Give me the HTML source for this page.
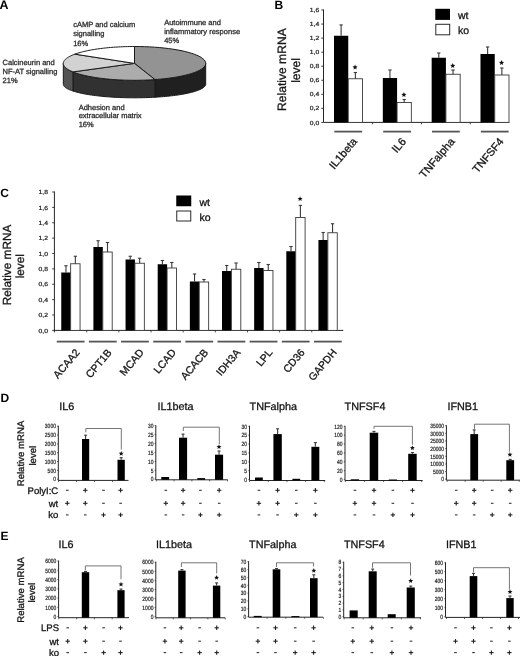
<!DOCTYPE html>
<html><head><meta charset="utf-8"><title>Figure</title>
<style>
html,body{margin:0;padding:0;background:#fff;}
body{width:520px;height:656px;overflow:hidden;}
svg{display:block;filter:grayscale(1) blur(0.3px);text-rendering:geometricPrecision;font-family:"Liberation Sans", sans-serif;}
</style></head><body>
<svg width="520" height="656" viewBox="0 0 520 656">
<rect x="0" y="0" width="520" height="656" fill="#fff"/>
<text x="-0.4" y="9" font-size="12.4" text-anchor="start" font-weight="bold" fill="#000">A</text>
<polygon points="205.7,63.4 205.66,63.94 205.55,64.48 205.37,65.02 205.12,65.56 204.79,66.09 204.39,66.62 203.92,67.15 203.38,67.68 202.77,68.2 202.09,68.71 201.34,69.22 200.52,69.73 199.63,70.23 198.68,70.72 197.66,71.2 196.58,71.68 195.43,72.14 194.22,72.6 192.95,73.05 191.62,73.49 190.24,73.92 188.79,74.33 187.29,74.74 185.73,75.14 184.13,75.52 182.47,75.89 180.76,76.25 179.01,76.59 177.21,76.92 175.36,77.24 173.48,77.54 171.55,77.83 169.59,78.11 167.59,78.36 165.56,78.61 163.49,78.84 161.4,79.05 159.28,79.24 157.13,79.42 154.96,79.59 154.96,97.23 157.13,97.09 159.28,96.95 161.4,96.79 163.49,96.62 165.56,96.44 167.59,96.24 169.59,96.03 171.55,95.81 173.48,95.58 175.36,95.34 177.21,95.08 179.01,94.82 180.76,94.54 182.47,94.25 184.13,93.95 185.73,93.64 187.29,93.33 188.79,93 190.24,92.66 191.62,92.32 192.95,91.97 194.22,91.6 195.43,91.24 196.58,90.86 197.66,90.48 198.68,90.09 199.63,89.69 200.52,89.29 201.34,88.89 202.09,88.48 202.77,88.06 203.38,87.64 203.92,87.22 204.39,86.79 204.79,86.37 205.12,85.94 205.37,85.5 205.55,85.07 205.66,84.63 205.7,84.2" fill="#202020" stroke="#1a1a1a" stroke-width="1" stroke-linejoin="round"/>
<polygon points="154.96,79.59 152.67,79.74 150.37,79.88 148.04,79.99 145.7,80.09 143.35,80.17 140.98,80.23 138.61,80.27 136.24,80.29 133.86,80.3 131.49,80.28 129.12,80.25 126.75,80.2 124.39,80.13 122.04,80.04 119.71,79.93 117.4,79.81 115.1,79.66 112.82,79.5 110.57,79.32 108.35,79.12 106.15,78.9 103.99,78.67 101.86,78.42 99.76,78.15 97.71,77.87 95.7,77.57 93.73,77.25 91.8,76.92 89.92,76.58 88.09,76.22 86.32,75.84 84.6,75.45 82.93,75.05 81.32,74.64 79.77,74.21 78.28,73.77 76.85,73.32 75.49,72.86 74.19,72.38 72.96,71.9 72.96,91.04 74.19,91.43 75.49,91.81 76.85,92.18 78.28,92.54 79.77,92.9 81.32,93.24 82.93,93.58 84.6,93.9 86.32,94.21 88.09,94.51 89.92,94.8 91.8,95.08 93.73,95.35 95.7,95.6 97.71,95.84 99.76,96.07 101.86,96.29 103.99,96.49 106.15,96.68 108.35,96.85 110.57,97.01 112.82,97.15 115.1,97.29 117.4,97.4 119.71,97.5 122.04,97.59 124.39,97.66 126.75,97.72 129.12,97.76 131.49,97.79 133.86,97.8 136.24,97.8 138.61,97.78 140.98,97.74 143.35,97.69 145.7,97.63 148.04,97.55 150.37,97.46 152.67,97.35 154.96,97.23" fill="#313131" stroke="#1a1a1a" stroke-width="1" stroke-linejoin="round"/>
<polygon points="72.96,71.9 72.5,71.71 72.04,71.51 71.6,71.32 71.16,71.12 70.74,70.92 70.33,70.72 69.93,70.52 69.54,70.32 69.16,70.11 68.79,69.91 68.44,69.7 68.09,69.49 67.76,69.29 67.44,69.08 67.13,68.87 66.83,68.66 66.55,68.44 66.27,68.23 66.01,68.02 65.76,67.8 65.52,67.59 65.29,67.37 65.08,67.15 64.88,66.94 64.69,66.72 64.51,66.5 64.34,66.28 64.19,66.06 64.05,65.84 63.92,65.62 63.8,65.4 63.7,65.18 63.6,64.96 63.52,64.73 63.45,64.51 63.4,64.29 63.36,64.07 63.32,63.85 63.31,63.62 63.3,63.4 63.3,84.2 63.31,84.38 63.32,84.56 63.36,84.74 63.4,84.92 63.45,85.1 63.52,85.27 63.6,85.45 63.7,85.63 63.8,85.81 63.92,85.99 64.05,86.16 64.19,86.34 64.34,86.52 64.51,86.69 64.69,86.87 64.88,87.05 65.08,87.22 65.29,87.4 65.52,87.57 65.76,87.74 66.01,87.92 66.27,88.09 66.55,88.26 66.83,88.43 67.13,88.6 67.44,88.77 67.76,88.94 68.09,89.1 68.44,89.27 68.79,89.44 69.16,89.6 69.54,89.77 69.93,89.93 70.33,90.09 70.74,90.25 71.16,90.41 71.6,90.57 72.04,90.73 72.5,90.89 72.96,91.04" fill="#535353" stroke="#1a1a1a" stroke-width="1" stroke-linejoin="round"/>
<polygon points="134.5,63.4 134.5,46.5 139.57,46.54 144.61,46.67 149.6,46.88 154.52,47.18 159.33,47.56 164.02,48.02 168.56,48.56 172.92,49.17 177.09,49.86 181.05,50.61 184.76,51.43 188.23,52.31 191.42,53.25 194.32,54.23 196.92,55.27 199.2,56.34 201.15,57.45 202.76,58.6 204.03,59.76 204.95,60.95 205.5,62.14 205.7,63.35 205.54,64.55 205.01,65.75 204.13,66.93 202.89,68.1 201.31,69.24 199.39,70.36 197.14,71.44 194.57,72.47 191.69,73.47 188.53,74.41 185.09,75.29 181.39,76.12 177.46,76.88 173.31,77.57 168.96,78.19 164.44,78.73 159.76,79.2 154.96,79.59" fill="#939393" stroke="#1a1a1a" stroke-width="1" stroke-linejoin="round"/>
<polygon points="134.5,63.4 154.96,79.59 152.67,79.74 150.37,79.88 148.04,79.99 145.7,80.09 143.35,80.17 140.98,80.23 138.61,80.27 136.24,80.29 133.86,80.3 131.49,80.28 129.12,80.25 126.75,80.2 124.39,80.13 122.04,80.04 119.71,79.93 117.4,79.81 115.1,79.66 112.82,79.5 110.57,79.32 108.35,79.12 106.15,78.9 103.99,78.67 101.86,78.42 99.76,78.15 97.71,77.87 95.7,77.57 93.73,77.25 91.8,76.92 89.92,76.58 88.09,76.22 86.32,75.84 84.6,75.45 82.93,75.05 81.32,74.64 79.77,74.21 78.28,73.77 76.85,73.32 75.49,72.86 74.19,72.38 72.96,71.9" fill="#acacac" stroke="#1a1a1a" stroke-width="1" stroke-linejoin="round"/>
<polygon points="134.5,63.4 72.96,71.9 72,71.49 71.08,71.08 70.21,70.66 69.39,70.24 68.62,69.81 67.9,69.38 67.23,68.94 66.61,68.49 66.04,68.05 65.53,67.6 65.07,67.14 64.66,66.69 64.3,66.23 64,65.77 63.75,65.3 63.56,64.84 63.42,64.37 63.33,63.91 63.3,63.44 63.32,62.97 63.4,62.51 63.53,62.04 63.72,61.58 63.96,61.11 64.25,60.65 64.6,60.19 65,59.73 65.45,59.28 65.95,58.83 66.51,58.38 67.12,57.94 67.78,57.5 68.49,57.06 69.26,56.63 70.07,56.21 70.93,55.79 71.84,55.37 72.8,54.97 73.8,54.57 74.85,54.17" fill="#d2d2d2" stroke="#1a1a1a" stroke-width="1" stroke-linejoin="round"/>
<polygon points="134.5,63.4 74.85,54.17 75.84,53.82 76.86,53.48 77.91,53.14 79,52.81 80.13,52.49 81.29,52.17 82.48,51.86 83.7,51.56 84.95,51.26 86.24,50.97 87.55,50.69 88.9,50.42 90.27,50.16 91.67,49.9 93.09,49.65 94.54,49.41 96.02,49.18 97.52,48.96 99.04,48.75 100.58,48.54 102.15,48.35 103.73,48.16 105.33,47.98 106.95,47.82 108.59,47.66 110.25,47.51 111.92,47.37 113.6,47.24 115.3,47.13 117,47.02 118.72,46.92 120.45,46.83 122.19,46.75 123.93,46.69 125.68,46.63 127.44,46.58 129.2,46.55 130.97,46.52 132.73,46.51 134.5,46.5" fill="#ffffff" stroke="#1a1a1a" stroke-width="1" stroke-linejoin="round"/>
<text x="73.2" y="26.9" font-size="7.5" text-anchor="start" fill="#2e2e2e" stroke="#2e2e2e" stroke-width="0.3">cAMP and calcium</text>
<text x="73.2" y="36.2" font-size="7.5" text-anchor="start" fill="#2e2e2e" stroke="#2e2e2e" stroke-width="0.3">signalling</text>
<text x="73.2" y="45.5" font-size="7.5" text-anchor="start" fill="#2e2e2e" stroke="#2e2e2e" stroke-width="0.3">16%</text>
<text x="164.2" y="24.6" font-size="7.5" text-anchor="start" fill="#2e2e2e" stroke="#2e2e2e" stroke-width="0.3">Autoimmune and</text>
<text x="164.2" y="33.8" font-size="7.5" text-anchor="start" fill="#2e2e2e" stroke="#2e2e2e" stroke-width="0.3">inflammatory response</text>
<text x="164.2" y="43" font-size="7.5" text-anchor="start" fill="#2e2e2e" stroke="#2e2e2e" stroke-width="0.3">45%</text>
<text x="2.6" y="64.6" font-size="7.5" text-anchor="start" fill="#2e2e2e" stroke="#2e2e2e" stroke-width="0.3">Calcineurin and</text>
<text x="2.6" y="73.6" font-size="7.5" text-anchor="start" fill="#2e2e2e" stroke="#2e2e2e" stroke-width="0.3">NF-AT signalling</text>
<text x="2.6" y="82.6" font-size="7.5" text-anchor="start" fill="#2e2e2e" stroke="#2e2e2e" stroke-width="0.3">21%</text>
<text x="78.7" y="110" font-size="7.5" text-anchor="start" fill="#2e2e2e" stroke="#2e2e2e" stroke-width="0.3">Adhesion and</text>
<text x="78.7" y="118.4" font-size="7.5" text-anchor="start" fill="#2e2e2e" stroke="#2e2e2e" stroke-width="0.3">extracellular matrix</text>
<text x="78.7" y="126.8" font-size="7.5" text-anchor="start" fill="#2e2e2e" stroke="#2e2e2e" stroke-width="0.3">16%</text>
<text x="274.6" y="8.7" font-size="12" text-anchor="start" font-weight="bold" fill="#000">B</text>
<line x1="323.5" y1="9.5" x2="323.5" y2="122.4" stroke="#262626" stroke-width="1"/>
<line x1="323.5" y1="122.4" x2="509.3" y2="122.4" stroke="#262626" stroke-width="1"/>
<line x1="321.3" y1="122.4" x2="323.5" y2="122.4" stroke="#262626" stroke-width="0.9"/>
<text x="0" y="0" font-size="20" text-anchor="end" transform="translate(319.2 124.52) scale(0.3392 0.2950)" fill="#222" stroke="#222" stroke-width="0.75">0,0</text>
<line x1="321.3" y1="108.35" x2="323.5" y2="108.35" stroke="#262626" stroke-width="0.9"/>
<text x="0" y="0" font-size="20" text-anchor="end" transform="translate(319.2 110.47) scale(0.3392 0.2950)" fill="#222" stroke="#222" stroke-width="0.75">0,2</text>
<line x1="321.3" y1="94.3" x2="323.5" y2="94.3" stroke="#262626" stroke-width="0.9"/>
<text x="0" y="0" font-size="20" text-anchor="end" transform="translate(319.2 96.42) scale(0.3392 0.2950)" fill="#222" stroke="#222" stroke-width="0.75">0,4</text>
<line x1="321.3" y1="80.25" x2="323.5" y2="80.25" stroke="#262626" stroke-width="0.9"/>
<text x="0" y="0" font-size="20" text-anchor="end" transform="translate(319.2 82.37) scale(0.3392 0.2950)" fill="#222" stroke="#222" stroke-width="0.75">0,6</text>
<line x1="321.3" y1="66.2" x2="323.5" y2="66.2" stroke="#262626" stroke-width="0.9"/>
<text x="0" y="0" font-size="20" text-anchor="end" transform="translate(319.2 68.32) scale(0.3392 0.2950)" fill="#222" stroke="#222" stroke-width="0.75">0,8</text>
<line x1="321.3" y1="52.15" x2="323.5" y2="52.15" stroke="#262626" stroke-width="0.9"/>
<text x="0" y="0" font-size="20" text-anchor="end" transform="translate(319.2 54.27) scale(0.3392 0.2950)" fill="#222" stroke="#222" stroke-width="0.75">1,0</text>
<line x1="321.3" y1="38.1" x2="323.5" y2="38.1" stroke="#262626" stroke-width="0.9"/>
<text x="0" y="0" font-size="20" text-anchor="end" transform="translate(319.2 40.22) scale(0.3392 0.2950)" fill="#222" stroke="#222" stroke-width="0.75">1,2</text>
<line x1="321.3" y1="24.05" x2="323.5" y2="24.05" stroke="#262626" stroke-width="0.9"/>
<text x="0" y="0" font-size="20" text-anchor="end" transform="translate(319.2 26.17) scale(0.3392 0.2950)" fill="#222" stroke="#222" stroke-width="0.75">1,4</text>
<line x1="321.3" y1="10" x2="323.5" y2="10" stroke="#262626" stroke-width="0.9"/>
<text x="0" y="0" font-size="20" text-anchor="end" transform="translate(319.2 12.12) scale(0.3392 0.2950)" fill="#222" stroke="#222" stroke-width="0.75">1,6</text>
<line x1="372.66" y1="122.4" x2="372.66" y2="124.4" stroke="#262626" stroke-width="0.8"/>
<line x1="421.49" y1="122.4" x2="421.49" y2="124.4" stroke="#262626" stroke-width="0.8"/>
<line x1="470.32" y1="122.4" x2="470.32" y2="124.4" stroke="#262626" stroke-width="0.8"/>
<rect x="334" y="35.75" width="14.25" height="86.65" fill="#000"/>
<rect x="348.25" y="78.75" width="14.25" height="43.65" fill="#fff" stroke="#3a3a3a" stroke-width="0.9"/>
<line x1="341.12" y1="35.75" x2="341.12" y2="24.9" stroke="#3a3a3a" stroke-width="1.1"/>
<line x1="339.48" y1="24.9" x2="342.77" y2="24.9" stroke="#3a3a3a" stroke-width="1.1"/>
<line x1="355.38" y1="78.75" x2="355.38" y2="72.5" stroke="#3a3a3a" stroke-width="1.1"/>
<line x1="353.73" y1="72.5" x2="357.02" y2="72.5" stroke="#3a3a3a" stroke-width="1.1"/>
<polygon points="355.07,64.6 355.79,66.32 357.64,66.47 356.23,67.68 356.66,69.48 355.07,68.52 353.49,69.48 353.92,67.68 352.51,66.47 354.36,66.32" fill="#111"/>
<line x1="334.35" y1="131.6" x2="362.15" y2="131.6" stroke="#555" stroke-width="1.8"/>
<text x="357.75" y="141.8" font-size="11" text-anchor="end" transform="rotate(-50 357.75 141.8)" fill="#151515" stroke="#151515" stroke-width="0.3">IL1beta</text>
<rect x="382.83" y="78" width="14.25" height="44.4" fill="#000"/>
<rect x="397.08" y="102.5" width="14.25" height="19.9" fill="#fff" stroke="#3a3a3a" stroke-width="0.9"/>
<line x1="389.95" y1="78" x2="389.95" y2="70" stroke="#3a3a3a" stroke-width="1.1"/>
<line x1="388.31" y1="70" x2="391.6" y2="70" stroke="#3a3a3a" stroke-width="1.1"/>
<line x1="404.2" y1="102.5" x2="404.2" y2="99.5" stroke="#3a3a3a" stroke-width="1.1"/>
<line x1="402.56" y1="99.5" x2="405.85" y2="99.5" stroke="#3a3a3a" stroke-width="1.1"/>
<polygon points="403.9,92.1 404.62,93.82 406.47,93.97 405.06,95.18 405.49,96.98 403.9,96.02 402.32,96.98 402.75,95.18 401.34,93.97 403.19,93.82" fill="#111"/>
<line x1="383.18" y1="131.6" x2="410.98" y2="131.6" stroke="#555" stroke-width="1.8"/>
<text x="406.58" y="141.8" font-size="11" text-anchor="end" transform="rotate(-50 406.58 141.8)" fill="#151515" stroke="#151515" stroke-width="0.3">IL6</text>
<rect x="431.66" y="57.75" width="14.25" height="64.65" fill="#000"/>
<rect x="445.91" y="74.25" width="14.25" height="48.15" fill="#fff" stroke="#3a3a3a" stroke-width="0.9"/>
<line x1="438.78" y1="57.75" x2="438.78" y2="53" stroke="#3a3a3a" stroke-width="1.1"/>
<line x1="437.13" y1="53" x2="440.43" y2="53" stroke="#3a3a3a" stroke-width="1.1"/>
<line x1="453.03" y1="74.25" x2="453.03" y2="70" stroke="#3a3a3a" stroke-width="1.1"/>
<line x1="451.38" y1="70" x2="454.68" y2="70" stroke="#3a3a3a" stroke-width="1.1"/>
<polygon points="452.73,63.1 453.45,64.82 455.3,64.97 453.89,66.18 454.32,67.98 452.73,67.02 451.15,67.98 451.58,66.18 450.17,64.97 452.02,64.82" fill="#111"/>
<line x1="432.01" y1="131.6" x2="459.81" y2="131.6" stroke="#555" stroke-width="1.8"/>
<text x="455.41" y="141.8" font-size="11" text-anchor="end" transform="rotate(-50 455.41 141.8)" fill="#151515" stroke="#151515" stroke-width="0.3">TNFalpha</text>
<rect x="480.49" y="54" width="14.25" height="68.4" fill="#000"/>
<rect x="494.74" y="75" width="14.25" height="47.4" fill="#fff" stroke="#3a3a3a" stroke-width="0.9"/>
<line x1="487.62" y1="54" x2="487.62" y2="47" stroke="#3a3a3a" stroke-width="1.1"/>
<line x1="485.97" y1="47" x2="489.26" y2="47" stroke="#3a3a3a" stroke-width="1.1"/>
<line x1="501.87" y1="75" x2="501.87" y2="68" stroke="#3a3a3a" stroke-width="1.1"/>
<line x1="500.22" y1="68" x2="503.51" y2="68" stroke="#3a3a3a" stroke-width="1.1"/>
<polygon points="501.56,60.1 502.28,61.82 504.13,61.97 502.72,63.18 503.15,64.98 501.56,64.02 499.98,64.98 500.41,63.18 499,61.97 500.85,61.82" fill="#111"/>
<line x1="480.84" y1="131.6" x2="508.64" y2="131.6" stroke="#555" stroke-width="1.8"/>
<text x="504.24" y="141.8" font-size="11" text-anchor="end" transform="rotate(-50 504.24 141.8)" fill="#151515" stroke="#151515" stroke-width="0.3">TNFSF4</text>
<text x="286.3" y="69.6" font-size="12.1" text-anchor="middle" transform="rotate(-90 286.3 69.6)" fill="#151515" stroke="#151515" stroke-width="0.3">Relative mRNA</text>
<text x="300" y="70.4" font-size="12.1" text-anchor="middle" transform="rotate(-90 300 70.4)" fill="#151515" stroke="#151515" stroke-width="0.3">level</text>
<rect x="435.3" y="8.8" width="14.7" height="11.1" fill="#000"/>
<rect x="435.8" y="24.3" width="13.9" height="10.5" fill="#fff" stroke="#2a2a2a" stroke-width="1"/>
<text x="458" y="18.5" font-size="10.5" text-anchor="start" fill="#151515" stroke="#151515" stroke-width="0.3">wt</text>
<text x="458" y="34.3" font-size="10.5" text-anchor="start" fill="#151515" stroke="#151515" stroke-width="0.3">ko</text>
<text x="0.2" y="197.4" font-size="12" text-anchor="start" font-weight="bold" fill="#000">C</text>
<line x1="54.4" y1="191.5" x2="54.4" y2="332.4" stroke="#262626" stroke-width="1"/>
<line x1="54.4" y1="330.4" x2="343.3" y2="330.4" stroke="#262626" stroke-width="1"/>
<line x1="52.2" y1="330.4" x2="54.4" y2="330.4" stroke="#262626" stroke-width="0.9"/>
<text x="0" y="0" font-size="20" text-anchor="end" transform="translate(48 332.52) scale(0.3392 0.2950)" fill="#222" stroke="#222" stroke-width="0.75">0,0</text>
<line x1="52.2" y1="315.02" x2="54.4" y2="315.02" stroke="#262626" stroke-width="0.9"/>
<text x="0" y="0" font-size="20" text-anchor="end" transform="translate(48 317.15) scale(0.3392 0.2950)" fill="#222" stroke="#222" stroke-width="0.75">0,2</text>
<line x1="52.2" y1="299.64" x2="54.4" y2="299.64" stroke="#262626" stroke-width="0.9"/>
<text x="0" y="0" font-size="20" text-anchor="end" transform="translate(48 301.77) scale(0.3392 0.2950)" fill="#222" stroke="#222" stroke-width="0.75">0,4</text>
<line x1="52.2" y1="284.27" x2="54.4" y2="284.27" stroke="#262626" stroke-width="0.9"/>
<text x="0" y="0" font-size="20" text-anchor="end" transform="translate(48 286.39) scale(0.3392 0.2950)" fill="#222" stroke="#222" stroke-width="0.75">0,6</text>
<line x1="52.2" y1="268.89" x2="54.4" y2="268.89" stroke="#262626" stroke-width="0.9"/>
<text x="0" y="0" font-size="20" text-anchor="end" transform="translate(48 271.01) scale(0.3392 0.2950)" fill="#222" stroke="#222" stroke-width="0.75">0,8</text>
<line x1="52.2" y1="253.51" x2="54.4" y2="253.51" stroke="#262626" stroke-width="0.9"/>
<text x="0" y="0" font-size="20" text-anchor="end" transform="translate(48 255.64) scale(0.3392 0.2950)" fill="#222" stroke="#222" stroke-width="0.75">1,0</text>
<line x1="52.2" y1="238.13" x2="54.4" y2="238.13" stroke="#262626" stroke-width="0.9"/>
<text x="0" y="0" font-size="20" text-anchor="end" transform="translate(48 240.26) scale(0.3392 0.2950)" fill="#222" stroke="#222" stroke-width="0.75">1,2</text>
<line x1="52.2" y1="222.76" x2="54.4" y2="222.76" stroke="#262626" stroke-width="0.9"/>
<text x="0" y="0" font-size="20" text-anchor="end" transform="translate(48 224.88) scale(0.3392 0.2950)" fill="#222" stroke="#222" stroke-width="0.75">1,4</text>
<line x1="52.2" y1="207.38" x2="54.4" y2="207.38" stroke="#262626" stroke-width="0.9"/>
<text x="0" y="0" font-size="20" text-anchor="end" transform="translate(48 209.5) scale(0.3392 0.2950)" fill="#222" stroke="#222" stroke-width="0.75">1,6</text>
<line x1="52.2" y1="192" x2="54.4" y2="192" stroke="#262626" stroke-width="0.9"/>
<text x="0" y="0" font-size="20" text-anchor="end" transform="translate(48 194.12) scale(0.3392 0.2950)" fill="#222" stroke="#222" stroke-width="0.75">1,8</text>
<line x1="86.73" y1="330.4" x2="86.73" y2="332.4" stroke="#262626" stroke-width="0.8"/>
<line x1="118.88" y1="330.4" x2="118.88" y2="332.4" stroke="#262626" stroke-width="0.8"/>
<line x1="151.02" y1="330.4" x2="151.02" y2="332.4" stroke="#262626" stroke-width="0.8"/>
<line x1="183.17" y1="330.4" x2="183.17" y2="332.4" stroke="#262626" stroke-width="0.8"/>
<line x1="215.32" y1="330.4" x2="215.32" y2="332.4" stroke="#262626" stroke-width="0.8"/>
<line x1="247.47" y1="330.4" x2="247.47" y2="332.4" stroke="#262626" stroke-width="0.8"/>
<line x1="279.62" y1="330.4" x2="279.62" y2="332.4" stroke="#262626" stroke-width="0.8"/>
<line x1="311.77" y1="330.4" x2="311.77" y2="332.4" stroke="#262626" stroke-width="0.8"/>
<rect x="61.25" y="272.5" width="9.4" height="57.9" fill="#000"/>
<rect x="70.65" y="263.75" width="9.4" height="66.65" fill="#fff" stroke="#3a3a3a" stroke-width="0.9"/>
<line x1="65.95" y1="272.5" x2="65.95" y2="265.75" stroke="#3a3a3a" stroke-width="1.1"/>
<line x1="64.3" y1="265.75" x2="67.6" y2="265.75" stroke="#3a3a3a" stroke-width="1.1"/>
<line x1="75.35" y1="263.75" x2="75.35" y2="256.25" stroke="#3a3a3a" stroke-width="1.1"/>
<line x1="73.7" y1="256.25" x2="77" y2="256.25" stroke="#3a3a3a" stroke-width="1.1"/>
<line x1="56.75" y1="341.6" x2="84.55" y2="341.6" stroke="#555" stroke-width="1.8"/>
<text x="80.15" y="352.8" font-size="10.5" text-anchor="end" transform="rotate(-50 80.15 352.8)" fill="#151515" stroke="#151515" stroke-width="0.3">ACAA2</text>
<rect x="93.4" y="247" width="9.4" height="83.4" fill="#000"/>
<rect x="102.8" y="252" width="9.4" height="78.4" fill="#fff" stroke="#3a3a3a" stroke-width="0.9"/>
<line x1="98.1" y1="247" x2="98.1" y2="240.75" stroke="#3a3a3a" stroke-width="1.1"/>
<line x1="96.45" y1="240.75" x2="99.75" y2="240.75" stroke="#3a3a3a" stroke-width="1.1"/>
<line x1="107.5" y1="252" x2="107.5" y2="242.5" stroke="#3a3a3a" stroke-width="1.1"/>
<line x1="105.85" y1="242.5" x2="109.15" y2="242.5" stroke="#3a3a3a" stroke-width="1.1"/>
<line x1="88.9" y1="341.6" x2="116.7" y2="341.6" stroke="#555" stroke-width="1.8"/>
<text x="112.3" y="352.8" font-size="10.5" text-anchor="end" transform="rotate(-50 112.3 352.8)" fill="#151515" stroke="#151515" stroke-width="0.3">CPT1B</text>
<rect x="125.55" y="259.5" width="9.4" height="70.9" fill="#000"/>
<rect x="134.95" y="263.25" width="9.4" height="67.15" fill="#fff" stroke="#3a3a3a" stroke-width="0.9"/>
<line x1="130.25" y1="259.5" x2="130.25" y2="256.25" stroke="#3a3a3a" stroke-width="1.1"/>
<line x1="128.6" y1="256.25" x2="131.9" y2="256.25" stroke="#3a3a3a" stroke-width="1.1"/>
<line x1="139.65" y1="263.25" x2="139.65" y2="258.25" stroke="#3a3a3a" stroke-width="1.1"/>
<line x1="138" y1="258.25" x2="141.3" y2="258.25" stroke="#3a3a3a" stroke-width="1.1"/>
<line x1="121.05" y1="341.6" x2="148.85" y2="341.6" stroke="#555" stroke-width="1.8"/>
<text x="144.45" y="352.8" font-size="10.5" text-anchor="end" transform="rotate(-50 144.45 352.8)" fill="#151515" stroke="#151515" stroke-width="0.3">MCAD</text>
<rect x="157.7" y="264.25" width="9.4" height="66.15" fill="#000"/>
<rect x="167.1" y="268" width="9.4" height="62.4" fill="#fff" stroke="#3a3a3a" stroke-width="0.9"/>
<line x1="162.4" y1="264.25" x2="162.4" y2="260.5" stroke="#3a3a3a" stroke-width="1.1"/>
<line x1="160.75" y1="260.5" x2="164.05" y2="260.5" stroke="#3a3a3a" stroke-width="1.1"/>
<line x1="171.8" y1="268" x2="171.8" y2="262.5" stroke="#3a3a3a" stroke-width="1.1"/>
<line x1="170.15" y1="262.5" x2="173.45" y2="262.5" stroke="#3a3a3a" stroke-width="1.1"/>
<line x1="153.2" y1="341.6" x2="181" y2="341.6" stroke="#555" stroke-width="1.8"/>
<text x="176.6" y="352.8" font-size="10.5" text-anchor="end" transform="rotate(-50 176.6 352.8)" fill="#151515" stroke="#151515" stroke-width="0.3">LCAD</text>
<rect x="189.85" y="281.5" width="9.4" height="48.9" fill="#000"/>
<rect x="199.25" y="282" width="9.4" height="48.4" fill="#fff" stroke="#3a3a3a" stroke-width="0.9"/>
<line x1="194.55" y1="281.5" x2="194.55" y2="274" stroke="#3a3a3a" stroke-width="1.1"/>
<line x1="192.9" y1="274" x2="196.2" y2="274" stroke="#3a3a3a" stroke-width="1.1"/>
<line x1="203.95" y1="282" x2="203.95" y2="279.5" stroke="#3a3a3a" stroke-width="1.1"/>
<line x1="202.3" y1="279.5" x2="205.6" y2="279.5" stroke="#3a3a3a" stroke-width="1.1"/>
<line x1="185.35" y1="341.6" x2="213.15" y2="341.6" stroke="#555" stroke-width="1.8"/>
<text x="208.75" y="352.8" font-size="10.5" text-anchor="end" transform="rotate(-50 208.75 352.8)" fill="#151515" stroke="#151515" stroke-width="0.3">ACACB</text>
<rect x="222" y="271" width="9.4" height="59.4" fill="#000"/>
<rect x="231.4" y="269.25" width="9.4" height="61.15" fill="#fff" stroke="#3a3a3a" stroke-width="0.9"/>
<line x1="226.7" y1="271" x2="226.7" y2="265.5" stroke="#3a3a3a" stroke-width="1.1"/>
<line x1="225.05" y1="265.5" x2="228.35" y2="265.5" stroke="#3a3a3a" stroke-width="1.1"/>
<line x1="236.1" y1="269.25" x2="236.1" y2="263" stroke="#3a3a3a" stroke-width="1.1"/>
<line x1="234.45" y1="263" x2="237.75" y2="263" stroke="#3a3a3a" stroke-width="1.1"/>
<line x1="217.5" y1="341.6" x2="245.3" y2="341.6" stroke="#555" stroke-width="1.8"/>
<text x="240.9" y="352.8" font-size="10.5" text-anchor="end" transform="rotate(-50 240.9 352.8)" fill="#151515" stroke="#151515" stroke-width="0.3">IDH3A</text>
<rect x="254.15" y="268" width="9.4" height="62.4" fill="#000"/>
<rect x="263.55" y="270.5" width="9.4" height="59.9" fill="#fff" stroke="#3a3a3a" stroke-width="0.9"/>
<line x1="258.85" y1="268" x2="258.85" y2="262.5" stroke="#3a3a3a" stroke-width="1.1"/>
<line x1="257.2" y1="262.5" x2="260.5" y2="262.5" stroke="#3a3a3a" stroke-width="1.1"/>
<line x1="268.25" y1="270.5" x2="268.25" y2="264.5" stroke="#3a3a3a" stroke-width="1.1"/>
<line x1="266.6" y1="264.5" x2="269.9" y2="264.5" stroke="#3a3a3a" stroke-width="1.1"/>
<line x1="249.65" y1="341.6" x2="277.45" y2="341.6" stroke="#555" stroke-width="1.8"/>
<text x="273.05" y="352.8" font-size="10.5" text-anchor="end" transform="rotate(-50 273.05 352.8)" fill="#151515" stroke="#151515" stroke-width="0.3">LPL</text>
<rect x="286.3" y="251.25" width="9.4" height="79.15" fill="#000"/>
<rect x="295.7" y="217.5" width="9.4" height="112.9" fill="#fff" stroke="#3a3a3a" stroke-width="0.9"/>
<line x1="291" y1="251.25" x2="291" y2="246.5" stroke="#3a3a3a" stroke-width="1.1"/>
<line x1="289.35" y1="246.5" x2="292.65" y2="246.5" stroke="#3a3a3a" stroke-width="1.1"/>
<line x1="300.4" y1="217.5" x2="300.4" y2="205.4" stroke="#3a3a3a" stroke-width="1.1"/>
<line x1="298.75" y1="205.4" x2="302.05" y2="205.4" stroke="#3a3a3a" stroke-width="1.1"/>
<polygon points="300.1,196.2 300.81,197.92 302.67,198.07 301.26,199.28 301.69,201.08 300.1,200.12 298.51,201.08 298.94,199.28 297.53,198.07 299.39,197.92" fill="#111"/>
<line x1="281.8" y1="341.6" x2="309.6" y2="341.6" stroke="#555" stroke-width="1.8"/>
<text x="305.2" y="352.8" font-size="10.5" text-anchor="end" transform="rotate(-50 305.2 352.8)" fill="#151515" stroke="#151515" stroke-width="0.3">CD36</text>
<rect x="318.45" y="240" width="9.4" height="90.4" fill="#000"/>
<rect x="327.85" y="232.75" width="9.4" height="97.65" fill="#fff" stroke="#3a3a3a" stroke-width="0.9"/>
<line x1="323.15" y1="240" x2="323.15" y2="232.5" stroke="#3a3a3a" stroke-width="1.1"/>
<line x1="321.5" y1="232.5" x2="324.8" y2="232.5" stroke="#3a3a3a" stroke-width="1.1"/>
<line x1="332.55" y1="232.75" x2="332.55" y2="223.75" stroke="#3a3a3a" stroke-width="1.1"/>
<line x1="330.9" y1="223.75" x2="334.2" y2="223.75" stroke="#3a3a3a" stroke-width="1.1"/>
<line x1="313.95" y1="341.6" x2="341.75" y2="341.6" stroke="#555" stroke-width="1.8"/>
<text x="337.35" y="352.8" font-size="10.5" text-anchor="end" transform="rotate(-50 337.35 352.8)" fill="#151515" stroke="#151515" stroke-width="0.3">GAPDH</text>
<text x="11" y="265" font-size="11.8" text-anchor="middle" transform="rotate(-90 11 265)" fill="#151515" stroke="#151515" stroke-width="0.3">Relative mRNA</text>
<text x="24.4" y="266.2" font-size="11.8" text-anchor="middle" transform="rotate(-90 24.4 266.2)" fill="#151515" stroke="#151515" stroke-width="0.3">level</text>
<rect x="176.25" y="195.5" width="15" height="10.75" fill="#000"/>
<rect x="176.75" y="211" width="14" height="10" fill="#fff" stroke="#2a2a2a" stroke-width="1"/>
<text x="199.5" y="205.6" font-size="10.5" text-anchor="start" fill="#151515" stroke="#151515" stroke-width="0.3">wt</text>
<text x="199.5" y="221.4" font-size="10.5" text-anchor="start" fill="#151515" stroke="#151515" stroke-width="0.3">ko</text>
<text x="0.4" y="402.3" font-size="12" text-anchor="start" font-weight="bold" fill="#000">D</text>
<text x="24.4" y="453.5" font-size="9.6" text-anchor="middle" transform="rotate(-90 24.4 453.5)" fill="#151515" stroke="#151515" stroke-width="0.3">Relative mRNA</text>
<text x="36" y="455.7" font-size="9.6" text-anchor="middle" transform="rotate(-90 36 455.7)" fill="#151515" stroke="#151515" stroke-width="0.3">level</text>
<text x="58.2" y="493.7" font-size="9.5" text-anchor="end" fill="#151515" stroke="#151515" stroke-width="0.3">PolyI:C</text>
<text x="58.2" y="506.7" font-size="9.5" text-anchor="end" fill="#151515" stroke="#151515" stroke-width="0.3">wt</text>
<text x="58.2" y="518.3" font-size="9.5" text-anchor="end" fill="#151515" stroke="#151515" stroke-width="0.3">ko</text>
<text x="59.2" y="410.4" font-size="10.8" text-anchor="start" fill="#151515" stroke="#151515" stroke-width="0.3">IL6</text>
<line x1="58.3" y1="425.7" x2="58.3" y2="480.4" stroke="#262626" stroke-width="1"/>
<line x1="58.3" y1="480.4" x2="128.5" y2="480.4" stroke="#262626" stroke-width="1"/>
<line x1="57.1" y1="479.2" x2="58.3" y2="479.2" stroke="#262626" stroke-width="0.7"/>
<text x="0" y="0" font-size="20" text-anchor="end" transform="translate(55.9 481.43) scale(0.2480 0.3100)" fill="#222" stroke="#222" stroke-width="0.65">0</text>
<line x1="57.1" y1="470.37" x2="58.3" y2="470.37" stroke="#262626" stroke-width="0.7"/>
<text x="0" y="0" font-size="20" text-anchor="end" transform="translate(55.9 472.6) scale(0.2480 0.3100)" fill="#222" stroke="#222" stroke-width="0.65">500</text>
<line x1="57.1" y1="461.53" x2="58.3" y2="461.53" stroke="#262626" stroke-width="0.7"/>
<text x="0" y="0" font-size="20" text-anchor="end" transform="translate(55.9 463.77) scale(0.2480 0.3100)" fill="#222" stroke="#222" stroke-width="0.65">1000</text>
<line x1="57.1" y1="452.7" x2="58.3" y2="452.7" stroke="#262626" stroke-width="0.7"/>
<text x="0" y="0" font-size="20" text-anchor="end" transform="translate(55.9 454.93) scale(0.2480 0.3100)" fill="#222" stroke="#222" stroke-width="0.65">1500</text>
<line x1="57.1" y1="443.87" x2="58.3" y2="443.87" stroke="#262626" stroke-width="0.7"/>
<text x="0" y="0" font-size="20" text-anchor="end" transform="translate(55.9 446.1) scale(0.2480 0.3100)" fill="#222" stroke="#222" stroke-width="0.65">2000</text>
<line x1="57.1" y1="435.03" x2="58.3" y2="435.03" stroke="#262626" stroke-width="0.7"/>
<text x="0" y="0" font-size="20" text-anchor="end" transform="translate(55.9 437.27) scale(0.2480 0.3100)" fill="#222" stroke="#222" stroke-width="0.65">2500</text>
<line x1="57.1" y1="426.2" x2="58.3" y2="426.2" stroke="#262626" stroke-width="0.7"/>
<text x="0" y="0" font-size="20" text-anchor="end" transform="translate(55.9 428.43) scale(0.2480 0.3100)" fill="#222" stroke="#222" stroke-width="0.65">3000</text>
<line x1="58.5" y1="480.4" x2="58.5" y2="482" stroke="#262626" stroke-width="0.7"/>
<line x1="76.5" y1="480.4" x2="76.5" y2="482" stroke="#262626" stroke-width="0.7"/>
<line x1="94.5" y1="480.4" x2="94.5" y2="482" stroke="#262626" stroke-width="0.7"/>
<line x1="112.5" y1="480.4" x2="112.5" y2="482" stroke="#262626" stroke-width="0.7"/>
<rect x="82" y="439" width="7.2" height="41.4" fill="#000"/>
<line x1="85.6" y1="439" x2="85.6" y2="435.2" stroke="#3a3a3a" stroke-width="1.1"/>
<line x1="84.1" y1="435.2" x2="87.1" y2="435.2" stroke="#3a3a3a" stroke-width="1.1"/>
<rect x="117.5" y="459.8" width="7.3" height="20.6" fill="#000"/>
<line x1="121.15" y1="459.8" x2="121.15" y2="457.7" stroke="#3a3a3a" stroke-width="1.1"/>
<line x1="119.65" y1="457.7" x2="122.65" y2="457.7" stroke="#3a3a3a" stroke-width="1.1"/>
<polyline points="85.8,432.3 85.8,428.5 121.3,428.5 121.3,449.6" fill="none" stroke="#666" stroke-width="0.9"/>
<polygon points="121.2,451 121.89,452.65 123.67,452.8 122.31,453.96 122.73,455.7 121.2,454.77 119.67,455.7 120.09,453.96 118.73,452.8 120.51,452.65" fill="#111"/>
<line x1="66" y1="490.3" x2="68.6" y2="490.3" stroke="#333" stroke-width="1.1"/>
<line x1="83.1" y1="490.3" x2="87.5" y2="490.3" stroke="#222" stroke-width="1.1"/>
<line x1="85.3" y1="488.1" x2="85.3" y2="492.5" stroke="#222" stroke-width="1.1"/>
<line x1="102.2" y1="490.3" x2="104.8" y2="490.3" stroke="#333" stroke-width="1.1"/>
<line x1="118.4" y1="490.3" x2="122.8" y2="490.3" stroke="#222" stroke-width="1.1"/>
<line x1="120.6" y1="488.1" x2="120.6" y2="492.5" stroke="#222" stroke-width="1.1"/>
<line x1="65.1" y1="503.3" x2="69.5" y2="503.3" stroke="#222" stroke-width="1.1"/>
<line x1="67.3" y1="501.1" x2="67.3" y2="505.5" stroke="#222" stroke-width="1.1"/>
<line x1="83.1" y1="503.3" x2="87.5" y2="503.3" stroke="#222" stroke-width="1.1"/>
<line x1="85.3" y1="501.1" x2="85.3" y2="505.5" stroke="#222" stroke-width="1.1"/>
<line x1="102.2" y1="503.3" x2="104.8" y2="503.3" stroke="#333" stroke-width="1.1"/>
<line x1="119.3" y1="503.3" x2="121.9" y2="503.3" stroke="#333" stroke-width="1.1"/>
<line x1="66" y1="514.9" x2="68.6" y2="514.9" stroke="#333" stroke-width="1.1"/>
<line x1="84" y1="514.9" x2="86.6" y2="514.9" stroke="#333" stroke-width="1.1"/>
<line x1="101.3" y1="514.9" x2="105.7" y2="514.9" stroke="#222" stroke-width="1.1"/>
<line x1="103.5" y1="512.7" x2="103.5" y2="517.1" stroke="#222" stroke-width="1.1"/>
<line x1="118.4" y1="514.9" x2="122.8" y2="514.9" stroke="#222" stroke-width="1.1"/>
<line x1="120.6" y1="512.7" x2="120.6" y2="517.1" stroke="#222" stroke-width="1.1"/>
<text x="157.4" y="410.4" font-size="10.8" text-anchor="start" fill="#151515" stroke="#151515" stroke-width="0.3">IL1beta</text>
<line x1="155.8" y1="425.2" x2="155.8" y2="479.8" stroke="#262626" stroke-width="1"/>
<line x1="155.8" y1="479.8" x2="227.7" y2="479.8" stroke="#262626" stroke-width="1"/>
<line x1="154.6" y1="479.2" x2="155.8" y2="479.2" stroke="#262626" stroke-width="0.7"/>
<text x="0" y="0" font-size="20" text-anchor="end" transform="translate(153.4 481.43) scale(0.2480 0.3100)" fill="#222" stroke="#222" stroke-width="0.65">0</text>
<line x1="154.6" y1="470.28" x2="155.8" y2="470.28" stroke="#262626" stroke-width="0.7"/>
<text x="0" y="0" font-size="20" text-anchor="end" transform="translate(153.4 472.52) scale(0.2480 0.3100)" fill="#222" stroke="#222" stroke-width="0.65">5</text>
<line x1="154.6" y1="461.37" x2="155.8" y2="461.37" stroke="#262626" stroke-width="0.7"/>
<text x="0" y="0" font-size="20" text-anchor="end" transform="translate(153.4 463.6) scale(0.2480 0.3100)" fill="#222" stroke="#222" stroke-width="0.65">10</text>
<line x1="154.6" y1="452.45" x2="155.8" y2="452.45" stroke="#262626" stroke-width="0.7"/>
<text x="0" y="0" font-size="20" text-anchor="end" transform="translate(153.4 454.68) scale(0.2480 0.3100)" fill="#222" stroke="#222" stroke-width="0.65">15</text>
<line x1="154.6" y1="443.53" x2="155.8" y2="443.53" stroke="#262626" stroke-width="0.7"/>
<text x="0" y="0" font-size="20" text-anchor="end" transform="translate(153.4 445.77) scale(0.2480 0.3100)" fill="#222" stroke="#222" stroke-width="0.65">20</text>
<line x1="154.6" y1="434.62" x2="155.8" y2="434.62" stroke="#262626" stroke-width="0.7"/>
<text x="0" y="0" font-size="20" text-anchor="end" transform="translate(153.4 436.85) scale(0.2480 0.3100)" fill="#222" stroke="#222" stroke-width="0.65">25</text>
<line x1="154.6" y1="425.7" x2="155.8" y2="425.7" stroke="#262626" stroke-width="0.7"/>
<text x="0" y="0" font-size="20" text-anchor="end" transform="translate(153.4 427.93) scale(0.2480 0.3100)" fill="#222" stroke="#222" stroke-width="0.65">30</text>
<line x1="156.3" y1="479.8" x2="156.3" y2="481.4" stroke="#262626" stroke-width="0.7"/>
<line x1="174.1" y1="479.8" x2="174.1" y2="481.4" stroke="#262626" stroke-width="0.7"/>
<line x1="191.9" y1="479.8" x2="191.9" y2="481.4" stroke="#262626" stroke-width="0.7"/>
<line x1="209.7" y1="479.8" x2="209.7" y2="481.4" stroke="#262626" stroke-width="0.7"/>
<line x1="227.5" y1="479.8" x2="227.5" y2="481.4" stroke="#262626" stroke-width="0.7"/>
<rect x="161.3" y="477" width="7.8" height="2.8" fill="#000"/>
<rect x="179" y="437.7" width="8.1" height="42.1" fill="#000"/>
<line x1="183.05" y1="437.7" x2="183.05" y2="434.1" stroke="#3a3a3a" stroke-width="1.1"/>
<line x1="181.55" y1="434.1" x2="184.55" y2="434.1" stroke="#3a3a3a" stroke-width="1.1"/>
<rect x="197.3" y="478.1" width="7.8" height="1.7" fill="#000"/>
<rect x="215" y="454.7" width="8.1" height="25.1" fill="#000"/>
<line x1="219.05" y1="454.7" x2="219.05" y2="451" stroke="#3a3a3a" stroke-width="1.1"/>
<line x1="217.55" y1="451" x2="220.55" y2="451" stroke="#3a3a3a" stroke-width="1.1"/>
<polyline points="183.3,431 183.3,427.2 219.3,427.2 219.3,444" fill="none" stroke="#666" stroke-width="0.9"/>
<polygon points="219,444.3 219.69,445.95 221.47,446.1 220.11,447.26 220.53,449 219,448.07 217.47,449 217.89,447.26 216.53,446.1 218.31,445.95" fill="#111"/>
<line x1="164.5" y1="490.3" x2="167.1" y2="490.3" stroke="#333" stroke-width="1.1"/>
<line x1="180.9" y1="490.3" x2="185.3" y2="490.3" stroke="#222" stroke-width="1.1"/>
<line x1="183.1" y1="488.1" x2="183.1" y2="492.5" stroke="#222" stroke-width="1.1"/>
<line x1="199.1" y1="490.3" x2="201.7" y2="490.3" stroke="#333" stroke-width="1.1"/>
<line x1="217" y1="490.3" x2="221.4" y2="490.3" stroke="#222" stroke-width="1.1"/>
<line x1="219.2" y1="488.1" x2="219.2" y2="492.5" stroke="#222" stroke-width="1.1"/>
<line x1="163.6" y1="503.3" x2="168" y2="503.3" stroke="#222" stroke-width="1.1"/>
<line x1="165.8" y1="501.1" x2="165.8" y2="505.5" stroke="#222" stroke-width="1.1"/>
<line x1="180.9" y1="503.3" x2="185.3" y2="503.3" stroke="#222" stroke-width="1.1"/>
<line x1="183.1" y1="501.1" x2="183.1" y2="505.5" stroke="#222" stroke-width="1.1"/>
<line x1="199.1" y1="503.3" x2="201.7" y2="503.3" stroke="#333" stroke-width="1.1"/>
<line x1="217.9" y1="503.3" x2="220.5" y2="503.3" stroke="#333" stroke-width="1.1"/>
<line x1="164.5" y1="514.9" x2="167.1" y2="514.9" stroke="#333" stroke-width="1.1"/>
<line x1="181.8" y1="514.9" x2="184.4" y2="514.9" stroke="#333" stroke-width="1.1"/>
<line x1="198.2" y1="514.9" x2="202.6" y2="514.9" stroke="#222" stroke-width="1.1"/>
<line x1="200.4" y1="512.7" x2="200.4" y2="517.1" stroke="#222" stroke-width="1.1"/>
<line x1="217" y1="514.9" x2="221.4" y2="514.9" stroke="#222" stroke-width="1.1"/>
<line x1="219.2" y1="512.7" x2="219.2" y2="517.1" stroke="#222" stroke-width="1.1"/>
<text x="249.6" y="410.4" font-size="10.8" text-anchor="start" fill="#151515" stroke="#151515" stroke-width="0.3">TNFalpha</text>
<line x1="249.5" y1="425.8" x2="249.5" y2="480.5" stroke="#262626" stroke-width="1"/>
<line x1="249.5" y1="480.5" x2="325.2" y2="480.5" stroke="#262626" stroke-width="1"/>
<line x1="248.3" y1="479.6" x2="249.5" y2="479.6" stroke="#262626" stroke-width="0.7"/>
<text x="0" y="0" font-size="20" text-anchor="end" transform="translate(247.1 481.83) scale(0.2480 0.3100)" fill="#222" stroke="#222" stroke-width="0.65">0</text>
<line x1="248.3" y1="470.72" x2="249.5" y2="470.72" stroke="#262626" stroke-width="0.7"/>
<text x="0" y="0" font-size="20" text-anchor="end" transform="translate(247.1 472.95) scale(0.2480 0.3100)" fill="#222" stroke="#222" stroke-width="0.65">5</text>
<line x1="248.3" y1="461.83" x2="249.5" y2="461.83" stroke="#262626" stroke-width="0.7"/>
<text x="0" y="0" font-size="20" text-anchor="end" transform="translate(247.1 464.07) scale(0.2480 0.3100)" fill="#222" stroke="#222" stroke-width="0.65">10</text>
<line x1="248.3" y1="452.95" x2="249.5" y2="452.95" stroke="#262626" stroke-width="0.7"/>
<text x="0" y="0" font-size="20" text-anchor="end" transform="translate(247.1 455.18) scale(0.2480 0.3100)" fill="#222" stroke="#222" stroke-width="0.65">15</text>
<line x1="248.3" y1="444.07" x2="249.5" y2="444.07" stroke="#262626" stroke-width="0.7"/>
<text x="0" y="0" font-size="20" text-anchor="end" transform="translate(247.1 446.3) scale(0.2480 0.3100)" fill="#222" stroke="#222" stroke-width="0.65">20</text>
<line x1="248.3" y1="435.18" x2="249.5" y2="435.18" stroke="#262626" stroke-width="0.7"/>
<text x="0" y="0" font-size="20" text-anchor="end" transform="translate(247.1 437.42) scale(0.2480 0.3100)" fill="#222" stroke="#222" stroke-width="0.65">25</text>
<line x1="248.3" y1="426.3" x2="249.5" y2="426.3" stroke="#262626" stroke-width="0.7"/>
<text x="0" y="0" font-size="20" text-anchor="end" transform="translate(247.1 428.53) scale(0.2480 0.3100)" fill="#222" stroke="#222" stroke-width="0.65">30</text>
<line x1="249.55" y1="480.5" x2="249.55" y2="482.1" stroke="#262626" stroke-width="0.7"/>
<line x1="268.25" y1="480.5" x2="268.25" y2="482.1" stroke="#262626" stroke-width="0.7"/>
<line x1="286.95" y1="480.5" x2="286.95" y2="482.1" stroke="#262626" stroke-width="0.7"/>
<line x1="305.65" y1="480.5" x2="305.65" y2="482.1" stroke="#262626" stroke-width="0.7"/>
<line x1="324.35" y1="480.5" x2="324.35" y2="482.1" stroke="#262626" stroke-width="0.7"/>
<rect x="255" y="477.5" width="7.8" height="3" fill="#000"/>
<rect x="273.4" y="434.1" width="8.4" height="46.4" fill="#000"/>
<line x1="277.6" y1="434.1" x2="277.6" y2="428.8" stroke="#3a3a3a" stroke-width="1.1"/>
<line x1="276.1" y1="428.8" x2="279.1" y2="428.8" stroke="#3a3a3a" stroke-width="1.1"/>
<rect x="292.4" y="478.8" width="7.8" height="1.7" fill="#000"/>
<rect x="311.4" y="446.8" width="7.9" height="33.7" fill="#000"/>
<line x1="315.35" y1="446.8" x2="315.35" y2="442.6" stroke="#3a3a3a" stroke-width="1.1"/>
<line x1="313.85" y1="442.6" x2="316.85" y2="442.6" stroke="#3a3a3a" stroke-width="1.1"/>
<line x1="257.6" y1="490.3" x2="260.2" y2="490.3" stroke="#333" stroke-width="1.1"/>
<line x1="275.4" y1="490.3" x2="279.8" y2="490.3" stroke="#222" stroke-width="1.1"/>
<line x1="277.6" y1="488.1" x2="277.6" y2="492.5" stroke="#222" stroke-width="1.1"/>
<line x1="295" y1="490.3" x2="297.6" y2="490.3" stroke="#333" stroke-width="1.1"/>
<line x1="313.2" y1="490.3" x2="317.6" y2="490.3" stroke="#222" stroke-width="1.1"/>
<line x1="315.4" y1="488.1" x2="315.4" y2="492.5" stroke="#222" stroke-width="1.1"/>
<line x1="256.7" y1="503.3" x2="261.1" y2="503.3" stroke="#222" stroke-width="1.1"/>
<line x1="258.9" y1="501.1" x2="258.9" y2="505.5" stroke="#222" stroke-width="1.1"/>
<line x1="275.4" y1="503.3" x2="279.8" y2="503.3" stroke="#222" stroke-width="1.1"/>
<line x1="277.6" y1="501.1" x2="277.6" y2="505.5" stroke="#222" stroke-width="1.1"/>
<line x1="295" y1="503.3" x2="297.6" y2="503.3" stroke="#333" stroke-width="1.1"/>
<line x1="314.1" y1="503.3" x2="316.7" y2="503.3" stroke="#333" stroke-width="1.1"/>
<line x1="257.6" y1="514.9" x2="260.2" y2="514.9" stroke="#333" stroke-width="1.1"/>
<line x1="276.3" y1="514.9" x2="278.9" y2="514.9" stroke="#333" stroke-width="1.1"/>
<line x1="294.1" y1="514.9" x2="298.5" y2="514.9" stroke="#222" stroke-width="1.1"/>
<line x1="296.3" y1="512.7" x2="296.3" y2="517.1" stroke="#222" stroke-width="1.1"/>
<line x1="313.2" y1="514.9" x2="317.6" y2="514.9" stroke="#222" stroke-width="1.1"/>
<line x1="315.4" y1="512.7" x2="315.4" y2="517.1" stroke="#222" stroke-width="1.1"/>
<text x="344.6" y="410.4" font-size="10.8" text-anchor="start" fill="#151515" stroke="#151515" stroke-width="0.3">TNFSF4</text>
<line x1="345" y1="425.8" x2="345" y2="480.5" stroke="#262626" stroke-width="1"/>
<line x1="345" y1="480.5" x2="422.6" y2="480.5" stroke="#262626" stroke-width="1"/>
<line x1="343.8" y1="479.6" x2="345" y2="479.6" stroke="#262626" stroke-width="0.7"/>
<text x="0" y="0" font-size="20" text-anchor="end" transform="translate(342.6 481.83) scale(0.2480 0.3100)" fill="#222" stroke="#222" stroke-width="0.65">0</text>
<line x1="343.8" y1="470.72" x2="345" y2="470.72" stroke="#262626" stroke-width="0.7"/>
<text x="0" y="0" font-size="20" text-anchor="end" transform="translate(342.6 472.95) scale(0.2480 0.3100)" fill="#222" stroke="#222" stroke-width="0.65">20</text>
<line x1="343.8" y1="461.83" x2="345" y2="461.83" stroke="#262626" stroke-width="0.7"/>
<text x="0" y="0" font-size="20" text-anchor="end" transform="translate(342.6 464.07) scale(0.2480 0.3100)" fill="#222" stroke="#222" stroke-width="0.65">40</text>
<line x1="343.8" y1="452.95" x2="345" y2="452.95" stroke="#262626" stroke-width="0.7"/>
<text x="0" y="0" font-size="20" text-anchor="end" transform="translate(342.6 455.18) scale(0.2480 0.3100)" fill="#222" stroke="#222" stroke-width="0.65">60</text>
<line x1="343.8" y1="444.07" x2="345" y2="444.07" stroke="#262626" stroke-width="0.7"/>
<text x="0" y="0" font-size="20" text-anchor="end" transform="translate(342.6 446.3) scale(0.2480 0.3100)" fill="#222" stroke="#222" stroke-width="0.65">80</text>
<line x1="343.8" y1="435.18" x2="345" y2="435.18" stroke="#262626" stroke-width="0.7"/>
<text x="0" y="0" font-size="20" text-anchor="end" transform="translate(342.6 437.42) scale(0.2480 0.3100)" fill="#222" stroke="#222" stroke-width="0.65">100</text>
<line x1="343.8" y1="426.3" x2="345" y2="426.3" stroke="#262626" stroke-width="0.7"/>
<text x="0" y="0" font-size="20" text-anchor="end" transform="translate(342.6 428.53) scale(0.2480 0.3100)" fill="#222" stroke="#222" stroke-width="0.65">120</text>
<line x1="345.35" y1="480.5" x2="345.35" y2="482.1" stroke="#262626" stroke-width="0.7"/>
<line x1="364.45" y1="480.5" x2="364.45" y2="482.1" stroke="#262626" stroke-width="0.7"/>
<line x1="383.55" y1="480.5" x2="383.55" y2="482.1" stroke="#262626" stroke-width="0.7"/>
<line x1="402.65" y1="480.5" x2="402.65" y2="482.1" stroke="#262626" stroke-width="0.7"/>
<line x1="421.75" y1="480.5" x2="421.75" y2="482.1" stroke="#262626" stroke-width="0.7"/>
<rect x="350.7" y="479.3" width="8.4" height="1.2" fill="#000"/>
<rect x="369.7" y="432.7" width="8.5" height="47.8" fill="#000"/>
<line x1="373.95" y1="432.7" x2="373.95" y2="431.4" stroke="#3a3a3a" stroke-width="1.1"/>
<line x1="372.45" y1="431.4" x2="375.45" y2="431.4" stroke="#3a3a3a" stroke-width="1.1"/>
<rect x="388.8" y="479.5" width="8.2" height="1" fill="#000"/>
<rect x="408.2" y="453.8" width="8.5" height="26.7" fill="#000"/>
<line x1="412.45" y1="453.8" x2="412.45" y2="452.5" stroke="#3a3a3a" stroke-width="1.1"/>
<line x1="410.95" y1="452.5" x2="413.95" y2="452.5" stroke="#3a3a3a" stroke-width="1.1"/>
<polyline points="374,428.8 374,426.3 412.4,426.3 412.4,444.7" fill="none" stroke="#666" stroke-width="0.9"/>
<polygon points="412.4,445.4 413.09,447.05 414.87,447.2 413.51,448.36 413.93,450.1 412.4,449.17 410.87,450.1 411.29,448.36 409.93,447.2 411.71,447.05" fill="#111"/>
<line x1="353.6" y1="490.3" x2="356.2" y2="490.3" stroke="#333" stroke-width="1.1"/>
<line x1="371.8" y1="490.3" x2="376.2" y2="490.3" stroke="#222" stroke-width="1.1"/>
<line x1="374" y1="488.1" x2="374" y2="492.5" stroke="#222" stroke-width="1.1"/>
<line x1="391.6" y1="490.3" x2="394.2" y2="490.3" stroke="#333" stroke-width="1.1"/>
<line x1="410.3" y1="490.3" x2="414.7" y2="490.3" stroke="#222" stroke-width="1.1"/>
<line x1="412.5" y1="488.1" x2="412.5" y2="492.5" stroke="#222" stroke-width="1.1"/>
<line x1="352.7" y1="503.3" x2="357.1" y2="503.3" stroke="#222" stroke-width="1.1"/>
<line x1="354.9" y1="501.1" x2="354.9" y2="505.5" stroke="#222" stroke-width="1.1"/>
<line x1="371.8" y1="503.3" x2="376.2" y2="503.3" stroke="#222" stroke-width="1.1"/>
<line x1="374" y1="501.1" x2="374" y2="505.5" stroke="#222" stroke-width="1.1"/>
<line x1="391.6" y1="503.3" x2="394.2" y2="503.3" stroke="#333" stroke-width="1.1"/>
<line x1="411.2" y1="503.3" x2="413.8" y2="503.3" stroke="#333" stroke-width="1.1"/>
<line x1="353.6" y1="514.9" x2="356.2" y2="514.9" stroke="#333" stroke-width="1.1"/>
<line x1="372.7" y1="514.9" x2="375.3" y2="514.9" stroke="#333" stroke-width="1.1"/>
<line x1="390.7" y1="514.9" x2="395.1" y2="514.9" stroke="#222" stroke-width="1.1"/>
<line x1="392.9" y1="512.7" x2="392.9" y2="517.1" stroke="#222" stroke-width="1.1"/>
<line x1="410.3" y1="514.9" x2="414.7" y2="514.9" stroke="#222" stroke-width="1.1"/>
<line x1="412.5" y1="512.7" x2="412.5" y2="517.1" stroke="#222" stroke-width="1.1"/>
<text x="447.4" y="410.4" font-size="10.8" text-anchor="start" fill="#151515" stroke="#151515" stroke-width="0.3">IFNB1</text>
<line x1="446.4" y1="425.2" x2="446.4" y2="480.2" stroke="#262626" stroke-width="1"/>
<line x1="446.4" y1="480.2" x2="520.5" y2="480.2" stroke="#262626" stroke-width="1"/>
<line x1="445.2" y1="479.2" x2="446.4" y2="479.2" stroke="#262626" stroke-width="0.7"/>
<text x="0" y="0" font-size="20" text-anchor="end" transform="translate(444 481.43) scale(0.2480 0.3100)" fill="#222" stroke="#222" stroke-width="0.65">0</text>
<line x1="445.2" y1="471.56" x2="446.4" y2="471.56" stroke="#262626" stroke-width="0.7"/>
<text x="0" y="0" font-size="20" text-anchor="end" transform="translate(444 473.79) scale(0.2480 0.3100)" fill="#222" stroke="#222" stroke-width="0.65">5000</text>
<line x1="445.2" y1="463.91" x2="446.4" y2="463.91" stroke="#262626" stroke-width="0.7"/>
<text x="0" y="0" font-size="20" text-anchor="end" transform="translate(444 466.15) scale(0.2480 0.3100)" fill="#222" stroke="#222" stroke-width="0.65">10000</text>
<line x1="445.2" y1="456.27" x2="446.4" y2="456.27" stroke="#262626" stroke-width="0.7"/>
<text x="0" y="0" font-size="20" text-anchor="end" transform="translate(444 458.5) scale(0.2480 0.3100)" fill="#222" stroke="#222" stroke-width="0.65">15000</text>
<line x1="445.2" y1="448.63" x2="446.4" y2="448.63" stroke="#262626" stroke-width="0.7"/>
<text x="0" y="0" font-size="20" text-anchor="end" transform="translate(444 450.86) scale(0.2480 0.3100)" fill="#222" stroke="#222" stroke-width="0.65">20000</text>
<line x1="445.2" y1="440.99" x2="446.4" y2="440.99" stroke="#262626" stroke-width="0.7"/>
<text x="0" y="0" font-size="20" text-anchor="end" transform="translate(444 443.22) scale(0.2480 0.3100)" fill="#222" stroke="#222" stroke-width="0.65">25000</text>
<line x1="445.2" y1="433.34" x2="446.4" y2="433.34" stroke="#262626" stroke-width="0.7"/>
<text x="0" y="0" font-size="20" text-anchor="end" transform="translate(444 435.57) scale(0.2480 0.3100)" fill="#222" stroke="#222" stroke-width="0.65">30000</text>
<line x1="445.2" y1="425.7" x2="446.4" y2="425.7" stroke="#262626" stroke-width="0.7"/>
<text x="0" y="0" font-size="20" text-anchor="end" transform="translate(444 427.93) scale(0.2480 0.3100)" fill="#222" stroke="#222" stroke-width="0.65">35000</text>
<line x1="447.2" y1="480.2" x2="447.2" y2="481.8" stroke="#262626" stroke-width="0.7"/>
<line x1="465.2" y1="480.2" x2="465.2" y2="481.8" stroke="#262626" stroke-width="0.7"/>
<line x1="483.2" y1="480.2" x2="483.2" y2="481.8" stroke="#262626" stroke-width="0.7"/>
<line x1="501.2" y1="480.2" x2="501.2" y2="481.8" stroke="#262626" stroke-width="0.7"/>
<line x1="519.2" y1="480.2" x2="519.2" y2="481.8" stroke="#262626" stroke-width="0.7"/>
<rect x="470.3" y="434.1" width="7.8" height="46.1" fill="#000"/>
<line x1="474.2" y1="434.1" x2="474.2" y2="429.9" stroke="#3a3a3a" stroke-width="1.1"/>
<line x1="472.7" y1="429.9" x2="475.7" y2="429.9" stroke="#3a3a3a" stroke-width="1.1"/>
<rect x="506.3" y="460.2" width="7.8" height="20" fill="#000"/>
<line x1="510.2" y1="460.2" x2="510.2" y2="459.4" stroke="#3a3a3a" stroke-width="1.1"/>
<line x1="508.7" y1="459.4" x2="511.7" y2="459.4" stroke="#3a3a3a" stroke-width="1.1"/>
<polyline points="474.5,428.8 474.5,424.2 509.4,424.2 509.4,451.7" fill="none" stroke="#666" stroke-width="0.9"/>
<polygon points="509.9,452 510.59,453.65 512.37,453.8 511.01,454.96 511.43,456.7 509.9,455.77 508.37,456.7 508.79,454.96 507.43,453.8 509.21,453.65" fill="#111"/>
<line x1="454.9" y1="490.3" x2="457.5" y2="490.3" stroke="#333" stroke-width="1.1"/>
<line x1="472" y1="490.3" x2="476.4" y2="490.3" stroke="#222" stroke-width="1.1"/>
<line x1="474.2" y1="488.1" x2="474.2" y2="492.5" stroke="#222" stroke-width="1.1"/>
<line x1="490.9" y1="490.3" x2="493.5" y2="490.3" stroke="#333" stroke-width="1.1"/>
<line x1="508" y1="490.3" x2="512.4" y2="490.3" stroke="#222" stroke-width="1.1"/>
<line x1="510.2" y1="488.1" x2="510.2" y2="492.5" stroke="#222" stroke-width="1.1"/>
<line x1="454" y1="503.3" x2="458.4" y2="503.3" stroke="#222" stroke-width="1.1"/>
<line x1="456.2" y1="501.1" x2="456.2" y2="505.5" stroke="#222" stroke-width="1.1"/>
<line x1="472" y1="503.3" x2="476.4" y2="503.3" stroke="#222" stroke-width="1.1"/>
<line x1="474.2" y1="501.1" x2="474.2" y2="505.5" stroke="#222" stroke-width="1.1"/>
<line x1="490.9" y1="503.3" x2="493.5" y2="503.3" stroke="#333" stroke-width="1.1"/>
<line x1="508.9" y1="503.3" x2="511.5" y2="503.3" stroke="#333" stroke-width="1.1"/>
<line x1="454.9" y1="514.9" x2="457.5" y2="514.9" stroke="#333" stroke-width="1.1"/>
<line x1="472.9" y1="514.9" x2="475.5" y2="514.9" stroke="#333" stroke-width="1.1"/>
<line x1="490" y1="514.9" x2="494.4" y2="514.9" stroke="#222" stroke-width="1.1"/>
<line x1="492.2" y1="512.7" x2="492.2" y2="517.1" stroke="#222" stroke-width="1.1"/>
<line x1="508" y1="514.9" x2="512.4" y2="514.9" stroke="#222" stroke-width="1.1"/>
<line x1="510.2" y1="512.7" x2="510.2" y2="517.1" stroke="#222" stroke-width="1.1"/>
<text x="0.6" y="539.7" font-size="12" text-anchor="start" font-weight="bold" fill="#000">E</text>
<text x="24" y="590" font-size="9.6" text-anchor="middle" transform="rotate(-90 24 590)" fill="#151515" stroke="#151515" stroke-width="0.3">Relative mRNA</text>
<text x="35.4" y="592.7" font-size="9.6" text-anchor="middle" transform="rotate(-90 35.4 592.7)" fill="#151515" stroke="#151515" stroke-width="0.3">level</text>
<text x="59" y="631.2" font-size="9.5" text-anchor="end" fill="#151515" stroke="#151515" stroke-width="0.3">LPS</text>
<text x="59" y="644.6" font-size="9.5" text-anchor="end" fill="#151515" stroke="#151515" stroke-width="0.3">wt</text>
<text x="59" y="656" font-size="9.5" text-anchor="end" fill="#151515" stroke="#151515" stroke-width="0.3">ko</text>
<text x="58.4" y="547.8" font-size="10.8" text-anchor="start" fill="#151515" stroke="#151515" stroke-width="0.3">IL6</text>
<line x1="58.6" y1="560.5" x2="58.6" y2="617.7" stroke="#262626" stroke-width="1"/>
<line x1="58.6" y1="617.7" x2="129" y2="617.7" stroke="#262626" stroke-width="1"/>
<line x1="57.4" y1="616.6" x2="58.6" y2="616.6" stroke="#262626" stroke-width="0.7"/>
<text x="0" y="0" font-size="20" text-anchor="end" transform="translate(56.2 618.83) scale(0.2480 0.3100)" fill="#222" stroke="#222" stroke-width="0.65">0</text>
<line x1="57.4" y1="607.33" x2="58.6" y2="607.33" stroke="#262626" stroke-width="0.7"/>
<text x="0" y="0" font-size="20" text-anchor="end" transform="translate(56.2 609.57) scale(0.2480 0.3100)" fill="#222" stroke="#222" stroke-width="0.65">1000</text>
<line x1="57.4" y1="598.07" x2="58.6" y2="598.07" stroke="#262626" stroke-width="0.7"/>
<text x="0" y="0" font-size="20" text-anchor="end" transform="translate(56.2 600.3) scale(0.2480 0.3100)" fill="#222" stroke="#222" stroke-width="0.65">2000</text>
<line x1="57.4" y1="588.8" x2="58.6" y2="588.8" stroke="#262626" stroke-width="0.7"/>
<text x="0" y="0" font-size="20" text-anchor="end" transform="translate(56.2 591.03) scale(0.2480 0.3100)" fill="#222" stroke="#222" stroke-width="0.65">3000</text>
<line x1="57.4" y1="579.53" x2="58.6" y2="579.53" stroke="#262626" stroke-width="0.7"/>
<text x="0" y="0" font-size="20" text-anchor="end" transform="translate(56.2 581.77) scale(0.2480 0.3100)" fill="#222" stroke="#222" stroke-width="0.65">4000</text>
<line x1="57.4" y1="570.27" x2="58.6" y2="570.27" stroke="#262626" stroke-width="0.7"/>
<text x="0" y="0" font-size="20" text-anchor="end" transform="translate(56.2 572.5) scale(0.2480 0.3100)" fill="#222" stroke="#222" stroke-width="0.65">5000</text>
<line x1="57.4" y1="561" x2="58.6" y2="561" stroke="#262626" stroke-width="0.7"/>
<text x="0" y="0" font-size="20" text-anchor="end" transform="translate(56.2 563.23) scale(0.2480 0.3100)" fill="#222" stroke="#222" stroke-width="0.65">6000</text>
<line x1="58.8" y1="617.7" x2="58.8" y2="619.3" stroke="#262626" stroke-width="0.7"/>
<line x1="76.6" y1="617.7" x2="76.6" y2="619.3" stroke="#262626" stroke-width="0.7"/>
<line x1="94.4" y1="617.7" x2="94.4" y2="619.3" stroke="#262626" stroke-width="0.7"/>
<line x1="112.2" y1="617.7" x2="112.2" y2="619.3" stroke="#262626" stroke-width="0.7"/>
<rect x="81.8" y="572.2" width="7.4" height="45.5" fill="#000"/>
<line x1="85.5" y1="572.2" x2="85.5" y2="571.4" stroke="#3a3a3a" stroke-width="1.1"/>
<line x1="84" y1="571.4" x2="87" y2="571.4" stroke="#3a3a3a" stroke-width="1.1"/>
<rect x="117.4" y="590.2" width="7.2" height="27.5" fill="#000"/>
<line x1="121" y1="590.2" x2="121" y2="589.1" stroke="#3a3a3a" stroke-width="1.1"/>
<line x1="119.5" y1="589.1" x2="122.5" y2="589.1" stroke="#3a3a3a" stroke-width="1.1"/>
<polyline points="85.4,570.1 85.4,565.9 121,565.9 121,579.2" fill="none" stroke="#666" stroke-width="0.9"/>
<polygon points="121,581.8 121.69,583.45 123.47,583.6 122.11,584.76 122.53,586.5 121,585.57 119.47,586.5 119.89,584.76 118.53,583.6 120.31,583.45" fill="#111"/>
<line x1="66.4" y1="627.8" x2="69" y2="627.8" stroke="#333" stroke-width="1.1"/>
<line x1="83.2" y1="627.8" x2="87.6" y2="627.8" stroke="#222" stroke-width="1.1"/>
<line x1="85.4" y1="625.6" x2="85.4" y2="630" stroke="#222" stroke-width="1.1"/>
<line x1="102.3" y1="627.8" x2="104.9" y2="627.8" stroke="#333" stroke-width="1.1"/>
<line x1="118.3" y1="627.8" x2="122.7" y2="627.8" stroke="#222" stroke-width="1.1"/>
<line x1="120.5" y1="625.6" x2="120.5" y2="630" stroke="#222" stroke-width="1.1"/>
<line x1="65.5" y1="641.2" x2="69.9" y2="641.2" stroke="#222" stroke-width="1.1"/>
<line x1="67.7" y1="639" x2="67.7" y2="643.4" stroke="#222" stroke-width="1.1"/>
<line x1="83.2" y1="641.2" x2="87.6" y2="641.2" stroke="#222" stroke-width="1.1"/>
<line x1="85.4" y1="639" x2="85.4" y2="643.4" stroke="#222" stroke-width="1.1"/>
<line x1="102.3" y1="641.2" x2="104.9" y2="641.2" stroke="#333" stroke-width="1.1"/>
<line x1="119.2" y1="641.2" x2="121.8" y2="641.2" stroke="#333" stroke-width="1.1"/>
<line x1="66.4" y1="652.6" x2="69" y2="652.6" stroke="#333" stroke-width="1.1"/>
<line x1="84.1" y1="652.6" x2="86.7" y2="652.6" stroke="#333" stroke-width="1.1"/>
<line x1="101.4" y1="652.6" x2="105.8" y2="652.6" stroke="#222" stroke-width="1.1"/>
<line x1="103.6" y1="650.4" x2="103.6" y2="654.8" stroke="#222" stroke-width="1.1"/>
<line x1="118.3" y1="652.6" x2="122.7" y2="652.6" stroke="#222" stroke-width="1.1"/>
<line x1="120.5" y1="650.4" x2="120.5" y2="654.8" stroke="#222" stroke-width="1.1"/>
<text x="156" y="547.8" font-size="10.8" text-anchor="start" fill="#151515" stroke="#151515" stroke-width="0.3">IL1beta</text>
<line x1="155.8" y1="561.7" x2="155.8" y2="617.8" stroke="#262626" stroke-width="1"/>
<line x1="155.8" y1="617.8" x2="225.2" y2="617.8" stroke="#262626" stroke-width="1"/>
<line x1="154.6" y1="616.7" x2="155.8" y2="616.7" stroke="#262626" stroke-width="0.7"/>
<text x="0" y="0" font-size="20" text-anchor="end" transform="translate(153.4 618.93) scale(0.2480 0.3100)" fill="#222" stroke="#222" stroke-width="0.65">0</text>
<line x1="154.6" y1="607.62" x2="155.8" y2="607.62" stroke="#262626" stroke-width="0.7"/>
<text x="0" y="0" font-size="20" text-anchor="end" transform="translate(153.4 609.85) scale(0.2480 0.3100)" fill="#222" stroke="#222" stroke-width="0.65">1000</text>
<line x1="154.6" y1="598.53" x2="155.8" y2="598.53" stroke="#262626" stroke-width="0.7"/>
<text x="0" y="0" font-size="20" text-anchor="end" transform="translate(153.4 600.77) scale(0.2480 0.3100)" fill="#222" stroke="#222" stroke-width="0.65">2000</text>
<line x1="154.6" y1="589.45" x2="155.8" y2="589.45" stroke="#262626" stroke-width="0.7"/>
<text x="0" y="0" font-size="20" text-anchor="end" transform="translate(153.4 591.68) scale(0.2480 0.3100)" fill="#222" stroke="#222" stroke-width="0.65">3000</text>
<line x1="154.6" y1="580.37" x2="155.8" y2="580.37" stroke="#262626" stroke-width="0.7"/>
<text x="0" y="0" font-size="20" text-anchor="end" transform="translate(153.4 582.6) scale(0.2480 0.3100)" fill="#222" stroke="#222" stroke-width="0.65">4000</text>
<line x1="154.6" y1="571.28" x2="155.8" y2="571.28" stroke="#262626" stroke-width="0.7"/>
<text x="0" y="0" font-size="20" text-anchor="end" transform="translate(153.4 573.52) scale(0.2480 0.3100)" fill="#222" stroke="#222" stroke-width="0.65">5000</text>
<line x1="154.6" y1="562.2" x2="155.8" y2="562.2" stroke="#262626" stroke-width="0.7"/>
<text x="0" y="0" font-size="20" text-anchor="end" transform="translate(153.4 564.43) scale(0.2480 0.3100)" fill="#222" stroke="#222" stroke-width="0.65">6000</text>
<line x1="155.95" y1="617.8" x2="155.95" y2="619.4" stroke="#262626" stroke-width="0.7"/>
<line x1="173.25" y1="617.8" x2="173.25" y2="619.4" stroke="#262626" stroke-width="0.7"/>
<line x1="190.55" y1="617.8" x2="190.55" y2="619.4" stroke="#262626" stroke-width="0.7"/>
<line x1="207.85" y1="617.8" x2="207.85" y2="619.4" stroke="#262626" stroke-width="0.7"/>
<line x1="225.15" y1="617.8" x2="225.15" y2="619.4" stroke="#262626" stroke-width="0.7"/>
<rect x="178.2" y="570.6" width="7.4" height="47.2" fill="#000"/>
<line x1="181.9" y1="570.6" x2="181.9" y2="569.6" stroke="#3a3a3a" stroke-width="1.1"/>
<line x1="180.4" y1="569.6" x2="183.4" y2="569.6" stroke="#3a3a3a" stroke-width="1.1"/>
<rect x="212.9" y="585.6" width="7.4" height="32.2" fill="#000"/>
<line x1="216.6" y1="585.6" x2="216.6" y2="582.9" stroke="#3a3a3a" stroke-width="1.1"/>
<line x1="215.1" y1="582.9" x2="218.1" y2="582.9" stroke="#3a3a3a" stroke-width="1.1"/>
<polyline points="181.4,567 181.4,562.8 216.7,562.8 216.7,573.4" fill="none" stroke="#666" stroke-width="0.9"/>
<polygon points="216.6,575.1 217.29,576.75 219.07,576.9 217.71,578.06 218.13,579.8 216.6,578.87 215.07,579.8 215.49,578.06 214.13,576.9 215.91,576.75" fill="#111"/>
<line x1="163.6" y1="627.8" x2="166.2" y2="627.8" stroke="#333" stroke-width="1.1"/>
<line x1="179" y1="627.8" x2="183.4" y2="627.8" stroke="#222" stroke-width="1.1"/>
<line x1="181.2" y1="625.6" x2="181.2" y2="630" stroke="#222" stroke-width="1.1"/>
<line x1="198.3" y1="627.8" x2="200.9" y2="627.8" stroke="#333" stroke-width="1.1"/>
<line x1="214.5" y1="627.8" x2="218.9" y2="627.8" stroke="#222" stroke-width="1.1"/>
<line x1="216.7" y1="625.6" x2="216.7" y2="630" stroke="#222" stroke-width="1.1"/>
<line x1="162.7" y1="641.2" x2="167.1" y2="641.2" stroke="#222" stroke-width="1.1"/>
<line x1="164.9" y1="639" x2="164.9" y2="643.4" stroke="#222" stroke-width="1.1"/>
<line x1="179" y1="641.2" x2="183.4" y2="641.2" stroke="#222" stroke-width="1.1"/>
<line x1="181.2" y1="639" x2="181.2" y2="643.4" stroke="#222" stroke-width="1.1"/>
<line x1="198.3" y1="641.2" x2="200.9" y2="641.2" stroke="#333" stroke-width="1.1"/>
<line x1="215.4" y1="641.2" x2="218" y2="641.2" stroke="#333" stroke-width="1.1"/>
<line x1="163.6" y1="652.6" x2="166.2" y2="652.6" stroke="#333" stroke-width="1.1"/>
<line x1="179.9" y1="652.6" x2="182.5" y2="652.6" stroke="#333" stroke-width="1.1"/>
<line x1="197.4" y1="652.6" x2="201.8" y2="652.6" stroke="#222" stroke-width="1.1"/>
<line x1="199.6" y1="650.4" x2="199.6" y2="654.8" stroke="#222" stroke-width="1.1"/>
<line x1="214.5" y1="652.6" x2="218.9" y2="652.6" stroke="#222" stroke-width="1.1"/>
<line x1="216.7" y1="650.4" x2="216.7" y2="654.8" stroke="#222" stroke-width="1.1"/>
<text x="249.1" y="547.8" font-size="10.8" text-anchor="start" fill="#151515" stroke="#151515" stroke-width="0.3">TNFalpha</text>
<line x1="248.6" y1="561.2" x2="248.6" y2="617.2" stroke="#262626" stroke-width="1"/>
<line x1="248.6" y1="617.2" x2="323.1" y2="617.2" stroke="#262626" stroke-width="1"/>
<line x1="247.4" y1="616.7" x2="248.6" y2="616.7" stroke="#262626" stroke-width="0.7"/>
<text x="0" y="0" font-size="20" text-anchor="end" transform="translate(246.2 618.93) scale(0.2480 0.3100)" fill="#222" stroke="#222" stroke-width="0.65">0</text>
<line x1="247.4" y1="608.84" x2="248.6" y2="608.84" stroke="#262626" stroke-width="0.7"/>
<text x="0" y="0" font-size="20" text-anchor="end" transform="translate(246.2 611.07) scale(0.2480 0.3100)" fill="#222" stroke="#222" stroke-width="0.65">10</text>
<line x1="247.4" y1="600.99" x2="248.6" y2="600.99" stroke="#262626" stroke-width="0.7"/>
<text x="0" y="0" font-size="20" text-anchor="end" transform="translate(246.2 603.22) scale(0.2480 0.3100)" fill="#222" stroke="#222" stroke-width="0.65">20</text>
<line x1="247.4" y1="593.13" x2="248.6" y2="593.13" stroke="#262626" stroke-width="0.7"/>
<text x="0" y="0" font-size="20" text-anchor="end" transform="translate(246.2 595.36) scale(0.2480 0.3100)" fill="#222" stroke="#222" stroke-width="0.65">30</text>
<line x1="247.4" y1="585.27" x2="248.6" y2="585.27" stroke="#262626" stroke-width="0.7"/>
<text x="0" y="0" font-size="20" text-anchor="end" transform="translate(246.2 587.5) scale(0.2480 0.3100)" fill="#222" stroke="#222" stroke-width="0.65">40</text>
<line x1="247.4" y1="577.41" x2="248.6" y2="577.41" stroke="#262626" stroke-width="0.7"/>
<text x="0" y="0" font-size="20" text-anchor="end" transform="translate(246.2 579.65) scale(0.2480 0.3100)" fill="#222" stroke="#222" stroke-width="0.65">50</text>
<line x1="247.4" y1="569.56" x2="248.6" y2="569.56" stroke="#262626" stroke-width="0.7"/>
<text x="0" y="0" font-size="20" text-anchor="end" transform="translate(246.2 571.79) scale(0.2480 0.3100)" fill="#222" stroke="#222" stroke-width="0.65">60</text>
<line x1="247.4" y1="561.7" x2="248.6" y2="561.7" stroke="#262626" stroke-width="0.7"/>
<text x="0" y="0" font-size="20" text-anchor="end" transform="translate(246.2 563.93) scale(0.2480 0.3100)" fill="#222" stroke="#222" stroke-width="0.65">70</text>
<line x1="267.1" y1="617.2" x2="267.1" y2="618.8" stroke="#262626" stroke-width="0.7"/>
<line x1="285.9" y1="617.2" x2="285.9" y2="618.8" stroke="#262626" stroke-width="0.7"/>
<line x1="304.7" y1="617.2" x2="304.7" y2="618.8" stroke="#262626" stroke-width="0.7"/>
<line x1="323.5" y1="617.2" x2="323.5" y2="618.8" stroke="#262626" stroke-width="0.7"/>
<rect x="253.7" y="615.9" width="8" height="1.3" fill="#000"/>
<rect x="272.7" y="569.3" width="7.6" height="47.9" fill="#000"/>
<line x1="276.5" y1="569.3" x2="276.5" y2="568.5" stroke="#3a3a3a" stroke-width="1.1"/>
<line x1="275" y1="568.5" x2="278" y2="568.5" stroke="#3a3a3a" stroke-width="1.1"/>
<rect x="291.4" y="616.1" width="8" height="1.1" fill="#000"/>
<rect x="310" y="578.2" width="7.6" height="39" fill="#000"/>
<line x1="313.8" y1="578.2" x2="313.8" y2="574.8" stroke="#3a3a3a" stroke-width="1.1"/>
<line x1="312.3" y1="574.8" x2="315.3" y2="574.8" stroke="#3a3a3a" stroke-width="1.1"/>
<polyline points="276.5,567 276.5,562.8 313.6,562.8 313.6,566.4" fill="none" stroke="#666" stroke-width="0.9"/>
<polygon points="313.8,568.1 314.49,569.75 316.27,569.9 314.91,571.06 315.33,572.8 313.8,571.87 312.27,572.8 312.69,571.06 311.33,569.9 313.11,569.75" fill="#111"/>
<line x1="256.6" y1="627.8" x2="259.2" y2="627.8" stroke="#333" stroke-width="1.1"/>
<line x1="273.3" y1="627.8" x2="277.7" y2="627.8" stroke="#222" stroke-width="1.1"/>
<line x1="275.5" y1="625.6" x2="275.5" y2="630" stroke="#222" stroke-width="1.1"/>
<line x1="293.9" y1="627.8" x2="296.5" y2="627.8" stroke="#333" stroke-width="1.1"/>
<line x1="311.4" y1="627.8" x2="315.8" y2="627.8" stroke="#222" stroke-width="1.1"/>
<line x1="313.6" y1="625.6" x2="313.6" y2="630" stroke="#222" stroke-width="1.1"/>
<line x1="255.7" y1="641.2" x2="260.1" y2="641.2" stroke="#222" stroke-width="1.1"/>
<line x1="257.9" y1="639" x2="257.9" y2="643.4" stroke="#222" stroke-width="1.1"/>
<line x1="273.3" y1="641.2" x2="277.7" y2="641.2" stroke="#222" stroke-width="1.1"/>
<line x1="275.5" y1="639" x2="275.5" y2="643.4" stroke="#222" stroke-width="1.1"/>
<line x1="293.9" y1="641.2" x2="296.5" y2="641.2" stroke="#333" stroke-width="1.1"/>
<line x1="312.3" y1="641.2" x2="314.9" y2="641.2" stroke="#333" stroke-width="1.1"/>
<line x1="256.6" y1="652.6" x2="259.2" y2="652.6" stroke="#333" stroke-width="1.1"/>
<line x1="274.2" y1="652.6" x2="276.8" y2="652.6" stroke="#333" stroke-width="1.1"/>
<line x1="293" y1="652.6" x2="297.4" y2="652.6" stroke="#222" stroke-width="1.1"/>
<line x1="295.2" y1="650.4" x2="295.2" y2="654.8" stroke="#222" stroke-width="1.1"/>
<line x1="311.4" y1="652.6" x2="315.8" y2="652.6" stroke="#222" stroke-width="1.1"/>
<line x1="313.6" y1="650.4" x2="313.6" y2="654.8" stroke="#222" stroke-width="1.1"/>
<text x="343.9" y="547.8" font-size="10.8" text-anchor="start" fill="#151515" stroke="#151515" stroke-width="0.3">TNFSF4</text>
<line x1="343.7" y1="561.7" x2="343.7" y2="617.8" stroke="#262626" stroke-width="1"/>
<line x1="343.7" y1="617.8" x2="421.1" y2="617.8" stroke="#262626" stroke-width="1"/>
<line x1="342.5" y1="616.7" x2="343.7" y2="616.7" stroke="#262626" stroke-width="0.7"/>
<text x="0" y="0" font-size="20" text-anchor="end" transform="translate(341.3 618.93) scale(0.2480 0.3100)" fill="#222" stroke="#222" stroke-width="0.65">0</text>
<line x1="342.5" y1="609.89" x2="343.7" y2="609.89" stroke="#262626" stroke-width="0.7"/>
<text x="0" y="0" font-size="20" text-anchor="end" transform="translate(341.3 612.12) scale(0.2480 0.3100)" fill="#222" stroke="#222" stroke-width="0.65">1</text>
<line x1="342.5" y1="603.08" x2="343.7" y2="603.08" stroke="#262626" stroke-width="0.7"/>
<text x="0" y="0" font-size="20" text-anchor="end" transform="translate(341.3 605.31) scale(0.2480 0.3100)" fill="#222" stroke="#222" stroke-width="0.65">2</text>
<line x1="342.5" y1="596.26" x2="343.7" y2="596.26" stroke="#262626" stroke-width="0.7"/>
<text x="0" y="0" font-size="20" text-anchor="end" transform="translate(341.3 598.49) scale(0.2480 0.3100)" fill="#222" stroke="#222" stroke-width="0.65">3</text>
<line x1="342.5" y1="589.45" x2="343.7" y2="589.45" stroke="#262626" stroke-width="0.7"/>
<text x="0" y="0" font-size="20" text-anchor="end" transform="translate(341.3 591.68) scale(0.2480 0.3100)" fill="#222" stroke="#222" stroke-width="0.65">4</text>
<line x1="342.5" y1="582.64" x2="343.7" y2="582.64" stroke="#262626" stroke-width="0.7"/>
<text x="0" y="0" font-size="20" text-anchor="end" transform="translate(341.3 584.87) scale(0.2480 0.3100)" fill="#222" stroke="#222" stroke-width="0.65">5</text>
<line x1="342.5" y1="575.83" x2="343.7" y2="575.83" stroke="#262626" stroke-width="0.7"/>
<text x="0" y="0" font-size="20" text-anchor="end" transform="translate(341.3 578.06) scale(0.2480 0.3100)" fill="#222" stroke="#222" stroke-width="0.65">6</text>
<line x1="342.5" y1="569.01" x2="343.7" y2="569.01" stroke="#262626" stroke-width="0.7"/>
<text x="0" y="0" font-size="20" text-anchor="end" transform="translate(341.3 571.24) scale(0.2480 0.3100)" fill="#222" stroke="#222" stroke-width="0.65">7</text>
<line x1="342.5" y1="562.2" x2="343.7" y2="562.2" stroke="#262626" stroke-width="0.7"/>
<text x="0" y="0" font-size="20" text-anchor="end" transform="translate(341.3 564.43) scale(0.2480 0.3100)" fill="#222" stroke="#222" stroke-width="0.65">8</text>
<line x1="344.05" y1="617.8" x2="344.05" y2="619.4" stroke="#262626" stroke-width="0.7"/>
<line x1="363.15" y1="617.8" x2="363.15" y2="619.4" stroke="#262626" stroke-width="0.7"/>
<line x1="382.25" y1="617.8" x2="382.25" y2="619.4" stroke="#262626" stroke-width="0.7"/>
<line x1="401.35" y1="617.8" x2="401.35" y2="619.4" stroke="#262626" stroke-width="0.7"/>
<line x1="420.45" y1="617.8" x2="420.45" y2="619.4" stroke="#262626" stroke-width="0.7"/>
<rect x="349.6" y="610.4" width="8.1" height="7.4" fill="#000"/>
<rect x="368.7" y="571.3" width="8" height="46.5" fill="#000"/>
<line x1="372.7" y1="571.3" x2="372.7" y2="569.1" stroke="#3a3a3a" stroke-width="1.1"/>
<line x1="371.2" y1="569.1" x2="374.2" y2="569.1" stroke="#3a3a3a" stroke-width="1.1"/>
<rect x="387.7" y="614.2" width="8" height="3.6" fill="#000"/>
<rect x="406.7" y="587.5" width="8.1" height="30.3" fill="#000"/>
<line x1="410.75" y1="587.5" x2="410.75" y2="586.1" stroke="#3a3a3a" stroke-width="1.1"/>
<line x1="409.25" y1="586.1" x2="412.25" y2="586.1" stroke="#3a3a3a" stroke-width="1.1"/>
<polyline points="372.5,567.7 372.5,562.8 410.5,562.8 410.5,575.5" fill="none" stroke="#666" stroke-width="0.9"/>
<polygon points="410.7,578.3 411.39,579.95 413.17,580.1 411.81,581.26 412.23,583 410.7,582.07 409.17,583 409.59,581.26 408.23,580.1 410.01,579.95" fill="#111"/>
<line x1="351.5" y1="627.8" x2="354.1" y2="627.8" stroke="#333" stroke-width="1.1"/>
<line x1="369.6" y1="627.8" x2="374" y2="627.8" stroke="#222" stroke-width="1.1"/>
<line x1="371.8" y1="625.6" x2="371.8" y2="630" stroke="#222" stroke-width="1.1"/>
<line x1="390.6" y1="627.8" x2="393.2" y2="627.8" stroke="#333" stroke-width="1.1"/>
<line x1="408.8" y1="627.8" x2="413.2" y2="627.8" stroke="#222" stroke-width="1.1"/>
<line x1="411" y1="625.6" x2="411" y2="630" stroke="#222" stroke-width="1.1"/>
<line x1="350.6" y1="641.2" x2="355" y2="641.2" stroke="#222" stroke-width="1.1"/>
<line x1="352.8" y1="639" x2="352.8" y2="643.4" stroke="#222" stroke-width="1.1"/>
<line x1="369.6" y1="641.2" x2="374" y2="641.2" stroke="#222" stroke-width="1.1"/>
<line x1="371.8" y1="639" x2="371.8" y2="643.4" stroke="#222" stroke-width="1.1"/>
<line x1="390.6" y1="641.2" x2="393.2" y2="641.2" stroke="#333" stroke-width="1.1"/>
<line x1="409.7" y1="641.2" x2="412.3" y2="641.2" stroke="#333" stroke-width="1.1"/>
<line x1="351.5" y1="652.6" x2="354.1" y2="652.6" stroke="#333" stroke-width="1.1"/>
<line x1="370.5" y1="652.6" x2="373.1" y2="652.6" stroke="#333" stroke-width="1.1"/>
<line x1="389.7" y1="652.6" x2="394.1" y2="652.6" stroke="#222" stroke-width="1.1"/>
<line x1="391.9" y1="650.4" x2="391.9" y2="654.8" stroke="#222" stroke-width="1.1"/>
<line x1="408.8" y1="652.6" x2="413.2" y2="652.6" stroke="#222" stroke-width="1.1"/>
<line x1="411" y1="650.4" x2="411" y2="654.8" stroke="#222" stroke-width="1.1"/>
<text x="445.9" y="547.8" font-size="10.8" text-anchor="start" fill="#151515" stroke="#151515" stroke-width="0.3">IFNB1</text>
<line x1="445.5" y1="562.3" x2="445.5" y2="617.4" stroke="#262626" stroke-width="1"/>
<line x1="445.5" y1="617.4" x2="520.5" y2="617.4" stroke="#262626" stroke-width="1"/>
<line x1="444.3" y1="616.7" x2="445.5" y2="616.7" stroke="#262626" stroke-width="0.7"/>
<text x="0" y="0" font-size="20" text-anchor="end" transform="translate(443.1 618.93) scale(0.2480 0.3100)" fill="#222" stroke="#222" stroke-width="0.65">0</text>
<line x1="444.3" y1="607.72" x2="445.5" y2="607.72" stroke="#262626" stroke-width="0.7"/>
<text x="0" y="0" font-size="20" text-anchor="end" transform="translate(443.1 609.95) scale(0.2480 0.3100)" fill="#222" stroke="#222" stroke-width="0.65">100</text>
<line x1="444.3" y1="598.73" x2="445.5" y2="598.73" stroke="#262626" stroke-width="0.7"/>
<text x="0" y="0" font-size="20" text-anchor="end" transform="translate(443.1 600.97) scale(0.2480 0.3100)" fill="#222" stroke="#222" stroke-width="0.65">200</text>
<line x1="444.3" y1="589.75" x2="445.5" y2="589.75" stroke="#262626" stroke-width="0.7"/>
<text x="0" y="0" font-size="20" text-anchor="end" transform="translate(443.1 591.98) scale(0.2480 0.3100)" fill="#222" stroke="#222" stroke-width="0.65">300</text>
<line x1="444.3" y1="580.77" x2="445.5" y2="580.77" stroke="#262626" stroke-width="0.7"/>
<text x="0" y="0" font-size="20" text-anchor="end" transform="translate(443.1 583) scale(0.2480 0.3100)" fill="#222" stroke="#222" stroke-width="0.65">400</text>
<line x1="444.3" y1="571.78" x2="445.5" y2="571.78" stroke="#262626" stroke-width="0.7"/>
<text x="0" y="0" font-size="20" text-anchor="end" transform="translate(443.1 574.02) scale(0.2480 0.3100)" fill="#222" stroke="#222" stroke-width="0.65">500</text>
<line x1="444.3" y1="562.8" x2="445.5" y2="562.8" stroke="#262626" stroke-width="0.7"/>
<text x="0" y="0" font-size="20" text-anchor="end" transform="translate(443.1 565.03) scale(0.2480 0.3100)" fill="#222" stroke="#222" stroke-width="0.65">600</text>
<line x1="446.5" y1="617.4" x2="446.5" y2="619" stroke="#262626" stroke-width="0.7"/>
<line x1="464.5" y1="617.4" x2="464.5" y2="619" stroke="#262626" stroke-width="0.7"/>
<line x1="482.5" y1="617.4" x2="482.5" y2="619" stroke="#262626" stroke-width="0.7"/>
<line x1="500.5" y1="617.4" x2="500.5" y2="619" stroke="#262626" stroke-width="0.7"/>
<line x1="518.5" y1="617.4" x2="518.5" y2="619" stroke="#262626" stroke-width="0.7"/>
<rect x="469.7" y="576.1" width="7.6" height="41.3" fill="#000"/>
<line x1="473.5" y1="576.1" x2="473.5" y2="573.4" stroke="#3a3a3a" stroke-width="1.1"/>
<line x1="472" y1="573.4" x2="475" y2="573.4" stroke="#3a3a3a" stroke-width="1.1"/>
<rect x="506.3" y="598.1" width="7.4" height="19.3" fill="#000"/>
<line x1="510" y1="598.1" x2="510" y2="596" stroke="#3a3a3a" stroke-width="1.1"/>
<line x1="508.5" y1="596" x2="511.5" y2="596" stroke="#3a3a3a" stroke-width="1.1"/>
<polyline points="473.5,572.3 473.5,567.7 509.4,567.7 509.4,589.7" fill="none" stroke="#666" stroke-width="0.9"/>
<polygon points="510,589.3 510.69,590.95 512.47,591.1 511.11,592.26 511.53,594 510,593.07 508.47,594 508.89,592.26 507.53,591.1 509.31,590.95" fill="#111"/>
<line x1="454.2" y1="627.8" x2="456.8" y2="627.8" stroke="#333" stroke-width="1.1"/>
<line x1="471.3" y1="627.8" x2="475.7" y2="627.8" stroke="#222" stroke-width="1.1"/>
<line x1="473.5" y1="625.6" x2="473.5" y2="630" stroke="#222" stroke-width="1.1"/>
<line x1="490.1" y1="627.8" x2="492.7" y2="627.8" stroke="#333" stroke-width="1.1"/>
<line x1="507.2" y1="627.8" x2="511.6" y2="627.8" stroke="#222" stroke-width="1.1"/>
<line x1="509.4" y1="625.6" x2="509.4" y2="630" stroke="#222" stroke-width="1.1"/>
<line x1="453.3" y1="641.2" x2="457.7" y2="641.2" stroke="#222" stroke-width="1.1"/>
<line x1="455.5" y1="639" x2="455.5" y2="643.4" stroke="#222" stroke-width="1.1"/>
<line x1="471.3" y1="641.2" x2="475.7" y2="641.2" stroke="#222" stroke-width="1.1"/>
<line x1="473.5" y1="639" x2="473.5" y2="643.4" stroke="#222" stroke-width="1.1"/>
<line x1="490.1" y1="641.2" x2="492.7" y2="641.2" stroke="#333" stroke-width="1.1"/>
<line x1="508.1" y1="641.2" x2="510.7" y2="641.2" stroke="#333" stroke-width="1.1"/>
<line x1="454.2" y1="652.6" x2="456.8" y2="652.6" stroke="#333" stroke-width="1.1"/>
<line x1="472.2" y1="652.6" x2="474.8" y2="652.6" stroke="#333" stroke-width="1.1"/>
<line x1="489.2" y1="652.6" x2="493.6" y2="652.6" stroke="#222" stroke-width="1.1"/>
<line x1="491.4" y1="650.4" x2="491.4" y2="654.8" stroke="#222" stroke-width="1.1"/>
<line x1="507.2" y1="652.6" x2="511.6" y2="652.6" stroke="#222" stroke-width="1.1"/>
<line x1="509.4" y1="650.4" x2="509.4" y2="654.8" stroke="#222" stroke-width="1.1"/>
</svg>
</body></html>
